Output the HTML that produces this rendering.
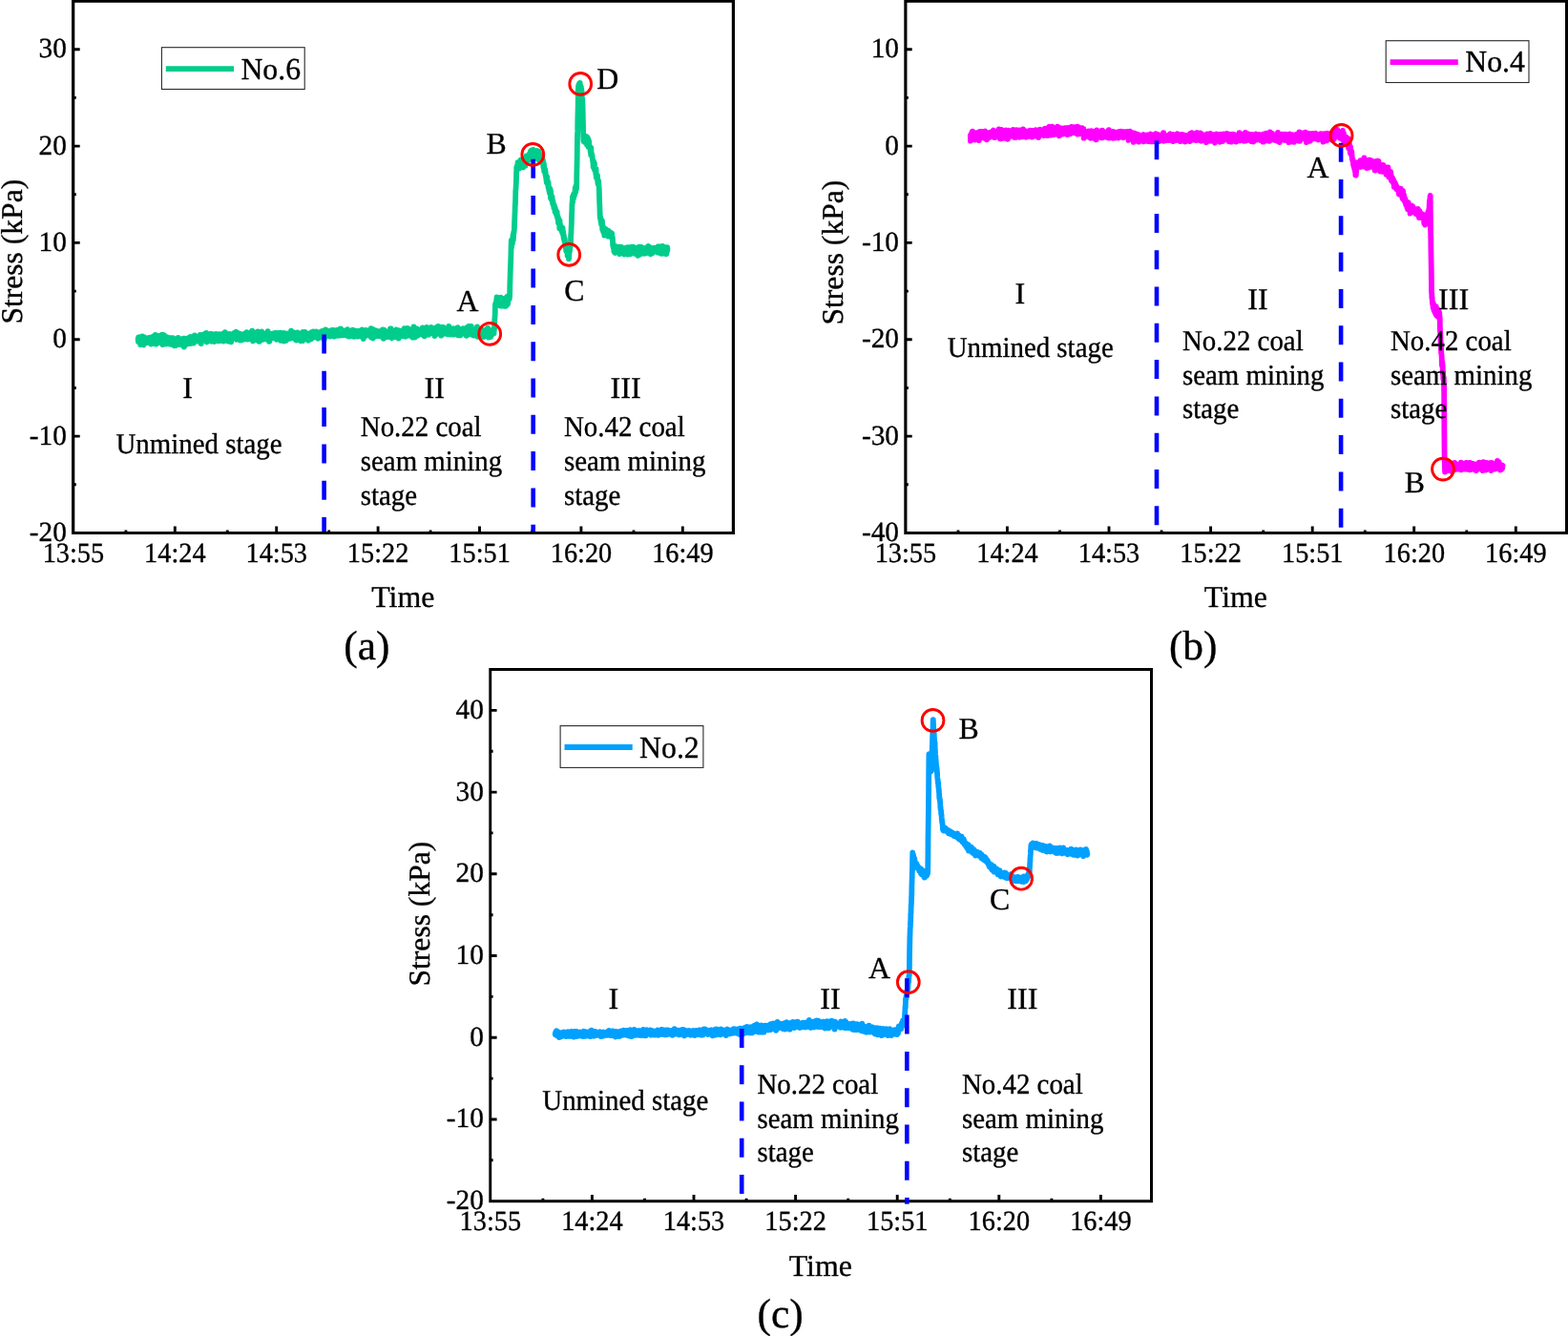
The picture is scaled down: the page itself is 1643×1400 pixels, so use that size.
<!DOCTYPE html>
<html lang="en">
<head>
<meta charset="utf-8">
<title>Stress-time curves of monitoring points No.6, No.4 and No.2</title>
<style>
html,body{margin:0;padding:0;background:#fff}
body{width:1643px;height:1400px;overflow:hidden}
svg{display:block;text-rendering:geometricPrecision}
text{white-space:pre}
</style>
</head>
<body>
<svg width="1643" height="1400" viewBox="0 0 1643 1400" role="img" aria-label="Stress-time curves for monitoring points No.6 (a), No.4 (b) and No.2 (c)" font-family='"Liberation Serif", "DejaVu Serif", serif' fill="#000">
<style>text{stroke:#000;stroke-width:.35px;stroke-linejoin:round}</style>
<rect width="1643" height="1400" fill="#fff"/>
<g id="chart-a">
<path d="M131.9,558.5V555.6M183.3,558.5V551.6M238.3,558.5V555.6M289.7,558.5V551.6M344.7,558.5V555.6M396.1,558.5V551.6M451.1,558.5V555.6M502.5,558.5V551.6M557.5,558.5V555.6M608.9,558.5V551.6M664,558.5V555.6M715.3,558.5V551.6M76.8,51.7H83.7M76.8,153.1H83.7M76.8,102.4H79.8M76.8,254.4H83.7M76.8,203.8H79.8M76.8,355.8H83.7M76.8,305.1H79.8M76.8,457.1H83.7M76.8,406.5H79.8M76.8,507.8H79.8" stroke="#000" stroke-width="2.9" fill="none"/>
<text transform="translate(76.9 588.8) scale(0.966 1)" font-size="29.3" text-anchor="middle">13:55</text>
<text transform="translate(183.3 588.8) scale(0.966 1)" font-size="29.3" text-anchor="middle">14:24</text>
<text transform="translate(289.7 588.8) scale(0.966 1)" font-size="29.3" text-anchor="middle">14:53</text>
<text transform="translate(396.1 588.8) scale(0.966 1)" font-size="29.3" text-anchor="middle">15:22</text>
<text transform="translate(502.6 588.8) scale(0.966 1)" font-size="29.3" text-anchor="middle">15:51</text>
<text transform="translate(609 588.8) scale(0.966 1)" font-size="29.3" text-anchor="middle">16:20</text>
<text transform="translate(715.4 588.8) scale(0.966 1)" font-size="29.3" text-anchor="middle">16:49</text>
<text transform="translate(69.9 60.1)" font-size="29.3" text-anchor="end">30</text>
<text transform="translate(69.9 161.5)" font-size="29.3" text-anchor="end">20</text>
<text transform="translate(69.9 262.8)" font-size="29.3" text-anchor="end">10</text>
<text transform="translate(69.9 364.2)" font-size="29.3" text-anchor="end">0</text>
<text transform="translate(69.9 465.5)" font-size="29.3" text-anchor="end">-10</text>
<text transform="translate(69.9 566.9)" font-size="29.3" text-anchor="end">-20</text>
<text transform="translate(422.3 636.3)" font-size="31.9" text-anchor="middle">Time</text>
<text transform="translate(22.8 263.7) rotate(-90)" font-size="31.6" text-anchor="middle">Stress (kPa)</text>
<text transform="translate(384.4 690.8)" font-size="43.4" text-anchor="middle">(a)</text>
<rect x="169.4" y="49.7" width="149.8" height="43.8" fill="#fff" stroke="#2a2a2a" stroke-width="1.1"/>
<path d="M173.8,72.1h71.2" stroke="#00cd8c" stroke-width="5.8" fill="none"/>
<text transform="translate(252.4 83) scale(0.99 1)" font-size="32.1">No.6</text>
<path d="M144.6,353.6l.2,3.2 .1,1.2 .2-3 .1-1.7 .2,2.6 .2,1 .1,1.3 .2-4.7 .1-.1 .2,4 .2-.5 .1,2.1 .2-1.1 .1-2.1 .2-.4 .2,5.7 .1-5.7 .2-1 .1-.7 .2,2.4 .2,.1 .1-1 .2,.6 .1,.7 .2,.8 .2,.8 .1-1.8 .2-4 .2,5 .1-4.2 .2,2.5 .1-2.6 .2,2.9 .2-1.6 .1,2 .2,5.2 .1-5.7 .2,1.8 .2-4.4 .1,2.1 .2,1.9 .1-1.5 .2,.9 .2-.5 .1-2.3 .2,3.2 .1-2.8 .2,5.4 .2-4.8 .1,2.4 .2-1.4 .1,1.9 .2-3.1 .2,3.2 .1-2.2 .2,2.8 .1-1.3 .2-1 .2-1.8 .1,3 .2-.6 .1,2.4 .2-4.1 .2,1.9 .1-.1 .2-.4 .1-.2 .2,0 .2-1.6 .1-.8 .2,1.2 .2,2 .1,1.8 .2-1.1 .1,.2 .2-.6 .2-.1 .1-1.1 .2,1.2 .1,2 .2-4.2 .2-.7 .1,5.3 .2-3.5 .1,1.5 .2-.2 .2-4 .1,7.1 .2-1.3 .1-3.2 .2,1.1 .2-1.2 .1-2.1 .2,1.6 .1,1 .2,1.4 .2-.8 .1-1.3 .2,2.6 .1-4.2 .2,3.1 .2,.6 .1-2.8 .2-3 .1,1.8 .2,2.2 .2,.6 .1,2.1 .2-5.1 .1,2 .2,1.3 .2-1.7 .1-4.4 .2,6.4 .1,3 .2-2.6 .2-3.9 .1,1 .2,1.3 .1,4.5 .2-3.7 .2-1 .1,2.8 .2-3.2 .1,3.8 .2-5.1 .2,.5 .1,2.4 .2,1.4 .1-1.6 .2-.7 .2-4.2 .1,2.2 .2,.2 .1,.1 .2,2.3 .2-1.9 .1,2.3 .2-1.5 .1-.8 .2,.9 .2,.6 .1,.9 .2-2.7 .1,.5 .2-2.3 .2,6 .1-.3 .2-3.3 .1-.6 .2-1.5 .2,2.8 .1,.1 .2,3.9 .1-3.9 .2-2 .2-3.4 .1,7.8 .2-2.5 .1-3.6 .2,3.6 .2-3.6 .1,8.8 .2-3.3 .1-1.1 .2-1.5 .2-4 .1,4.1 .2-2.9 .1,4.3 .2-5.5 .2,2.5 .1,4.4 .2,.9 .1-5.6 .2-.7 .2,4.9 .1,0 .2-3.6 .1,.7 .2,0 .2-.9 .1,1.1 .2,3.9 .1-1 .2,2.8 .2-4.3 .1,0 .2-1.6 .2,1.7 .1-2.3 .2-.8 .1,5 .2,1.5 .2-1.1 .1,1 .2-2.1 .1-1.8 .2,1.6 .2-.8 .1-1.4 .2-1.1 .1,.4 .2,3.1 .2,.3 .1-1.2 .2,3.9 .1-2.4 .2,.8 .2,1.4 .1-4 .2-2.3 .2,5.5 .1-2.8 .2,4.1 .1-1.9 .2,1.4 .2-.4 .1-5.7 .2,5.7 .1-2.7 .2-.1 .2,.7 .1,2.4 .2,.3 .1,.4 .2-5.3 .2,2.1 .1-3.6 .2,4.6 .1,1.4 .2-2.8 .2,2 .1,0 .2,1.5 .1-3.6 .2-.1 .2,.1 .1,5.1 .2-1.4 .1-2.4 .2,.7 .1-.3 .2,.2 .2-.8 .1-.3 .2-1.8 .1,1.2 .2,4.6 .2-2.3 .1-.9 .2-.6 .1,.5 .2,.6 .2-2 .1,1.7 .2,0 .1-1.9 .2-.1 .1-.5 .2-.1 .2,3.9 .1-6.5 .2,4.1 .1-.7 .2,0 .2,1.4 .1,2.1 .2-2.1 .1-.5 .2-.9 .2,.9 .1,2.1 .2-2.6 .1-1.5 .2-.3 .2,.3 .1-.6 .2,5 .1-1.5 .2-1.2 .2,3.4 .1-4.3 .2,2.9 .1,0 .2-4.7 .1,0 .2,1.3 .2,3.6 .1,.8 .2-5.1 .1,4.6 .2-2.9 .2,0 .1-.4 .2,.5 .1-3 .2,1.6 .2-.5 .1,3.5 .2,3.1 .1,1.3 .2-6.1 .1-2.8 .2,2.6 .2-1.1 .1,5.9 .2-2.9 .1-2.6 .2,3.3 .2-.8 .1-4.3 .2,2.2 .1,.5 .2,.5 .2,.2 .1-1 .2,1 .1-1.6 .2-.7 .2,4.8 .1-2.4 .2,.1 .1-4.1 .2,2.8 .2,1.9 .1-4.2 .2,4.7 .1-3 .2,1.5 .2-1.1 .1,.6 .2,1.9 .1-3.2 .2,3.8 .2-4.7 .1-.4 .2,3.3 .1-3.6 .2,1.3 .2,2.5 .1,.6 .2-6.1 .1,4.5 .2,2.7 .2-1.4 .1-2.9 .2-.8 .1,.6 .2-1.8 .2,1.7 .1,.1 .2,.1 .1,2.6 .2-2.9 .2-2.5 .1,4.9 .2-4.3 .1,1.2 .2,.6 .2-.5 .1-1.3 .2,1.4 .1,4.8 .2-5.6 .2,.9 .1,2.5 .2-.8 .1,.1 .2,.1 .2-5.6 .1,2.2 .2,1.9 .1,.8 .2,1.5 .2-1.6 .1-1.5 .2,.6 .1-.5 .2,.9 .2,.8 .1-2 .2-1 .1-.1 .2,3.9 .2,.3 .1-.6 .2-.2 .1-.1 .2-1.7 .2,1.3 .1-3.4 .2,1.7 .1-1.1 .2,2.9 .2-2.6 .1,.9 .2,1 .1,1.9 .2-4.3 .2-.3 .1,3.5 .2-3.9 .1,3.1 .2-2.1 .2,1 .1-3.5 .2,5.1 .1-2.5 .2-.8 .2,5.9 .1-2.7 .2,4.2 .1-4.8 .2-1.6 .2,.9 .1,3 .2-3.3 .1,1 .2,.1 .2-2.9 .1,2.1 .2-1.3 .1-1.5 .2,4.2 .2-.4 .1-1.2 .2-2 .1-2.2 .2,5 .2-1.2 .1-3.2 .2,3.2 .1-2.9 .2,3 .2,.3 .1,.4 .2-.3 .1-.1 .2-2.6 .2,1.5 .1-.3 .2,.5 .1,1 .2,.7 .2,2 .1-8.4 .2,5.9 .1-1.2 .2,4.9 .2-2.7 .1-5.1 .2,4.1 .1-1.9 .2,3 .2-4.1 .1,1.9 .2-.1 .1,.1 .2-1 .2-2.5 .1,4.5 .2,1.1 .1-2.2 .2-1.9 .2,2.5 .1,.7 .2-1.5 .1,.3 .2,2.8 .2-5.1 .1,1.1 .2-2.7 .1,2.4 .2-.1 .2-.4 .1,.5 .2,5 .1-4 .2,.1 .2,4.6 .1-4.5 .2-3.4 .1,4.3 .2-2.7 .2,5.1 .1-5.8 .2,1.4 .1-2.1 .2,3.4 .2-2.3 .1,1.9 .2-.6 .1-.5 .2,3.1 .2,0 .1-1.8 .2-1.9 .1-.4 .2,2.7 .2,4.2 .1-5.7 .2-.7 .1,.2 .2-.8 .2,.2 .1,1.5 .2,3.3 .1-2.9 .2-1 .2-2.3 .1,3.7 .2-.5 .1-2.4 .2,.2 .2,2.1 .1,2.1 .2-.8 .1-.8 .2-1.1 .2,1.3 .1-.6 .2,4.3 .1-6.6 .2,1.5 .2,3.3 .1-3.1 .2,3.4 .1-2.9 .2,.3 .2-1 .1-2 .2,.8 .1,6.4 .2-3.2 .2-.1 .1,.7 .2-.7 .1,.9 .2-2.6 .2,.1 .1,2.4 .2-2.7 .1-1.9 .2,2.2 .2-.7 .1,2.3 .2-2.6 .1-.7 .2,1.4 .2,3.8 .1-3.2 .2,.4 .1-.3 .2,.6 .2,1.2 .1,1 .2-6.1 .1,6 .2-2.7 .2-.7 .1,5.5 .2-5.2 .1,4.2 .2-1.9 .2-4 .1,3 .2,.5 .1-1.7 .2-4.4 .2,3.9 .1,.3 .2-1.8 .2,5.9 .1-4.2 .2-.3 .1,.2 .2-1 .2,.1 .1,1.7 .2,.4 .1-1.6 .2,.8 .2-2.6 .1,3.8 .2-2.5 .1,1.9 .2-2.2 .2,.7 .1,1.5 .2-2.9 .1,7.4 .2-5 .2-.1 .1-1.3 .2,4.6 .1-.4 .2-2.2 .2-3.3 .1,1.7 .2,2.3 .1-2.3 .2-1.3 .2,0 .1,.8 .2,1.6 .1-1.4 .2,1.4 .2,5.5 .1-2 .2-5.7 .1,2.8 .2-.5 .2-.5 .1,2.4 .2-2.8 .1,0 .2-.1 .2,.6 .1,2.8 .2-1.1 .1-4.2 .2,1.8 .2-.7 .1,3.2 .2-1.2 .1,1.3 .2-1.9 .2-3.7 .1,4.8 .2-.5 .1,.6 .2-3.7 .2,2.8 .1-1.5 .2,0 .1,2 .2,0 .2-2.5 .1-1.6 .2-1.5 .1,3.8 .2,3.4 .2-2.4 .1-4.4 .2,2.8 .1,2.5 .2,2.5 .2-1 .1-1.6 .2-.3 .1-2.5 .2,1.2 .2,.2 .1-.9 .2,1.7 .1-.9 .2,1.4 .2,2.2 .1-1.4 .2-.6 .1-1.3 .2-2.6 .2,2.8 .1,1.3 .2-3.1 .1,4.5 .2-3.1 .2,1.4 .1-1.4 .2-1.9 .1,6.7 .2-6.5 .2,4.2 .1-3 .2,1.7 .1-2.2 .2,.8 .2,2.6 .1,2.1 .2-5.6 .1,1.7 .2,1.9 .2-3.2 .1,2.7 .2-3 .1,2.8 .2-.4 .2,1.6 .1-1.7 .2-3.1 .2,3.7 .1-3.5 .2,3.7 .1,1.5 .2-1.9 .2-2.3 .1,3.5 .2-2 .1-2.9 .2,1.8 .2,3.6 .1-3.5 .2,.9 .1-1 .2-2.7 .2,2.4 .1,1.7 .2-.3 .1-.7 .2-4 .2,6.7 .1-1 .2,.6 .1,.6 .2-3.5 .2-.3 .1,1.8 .2,2.7 .1-6.7 .2,2.9 .2-1 .1,2.6 .2,1.8 .1-3.5 .2-1.9 .2,2.6 .1-.7 .2-2.5 .1,4.8 .2-2.8 .2,2.4 .1-4 .2,4.8 .1-5 .2,4.9 .2-5.7 .1,6.4 .2-3.5 .1-2.4 .2,2.6 .2,1.2 .1-2.7 .2,1 .1,1.5 .2-.8 .2-5.3 .1,4.7 .2,1.8 .1-.3 .2,1.4 .2-3.4 .1,6.5 .2-3.5 .1-1 .2,1.6 .2-.3 .1-1.7 .2-1.4 .1,3.2 .2-1.2 .2-4.6 .1,1.6 .2,3.1 .1-.7 .2,.4 .2,.7 .1-1 .2,2.9 .1-4.4 .2,.4 .2,1.4 .1,.9 .2,.1 .1,1.4 .2-4 .2,3.3 .1-1.4 .2-3 .1,1.8 .2,4.5 .2-2.6 .1-2.5 .2-3.9 .1,3.3 .2,.1 .2,1.6 .1,4.4 .2-3.1 .1-.9 .2-2.5 .2-.5 .1,2 .2-.5 .1,6.5 .2-6.4 .2-.4 .1,3.5 .2-2.1 .1-2.7 .2,5.1 .2-3.2 .1-2.1 .2,3.3 .1,.4 .2-1.7 .2,2.1 .1,.2 .2-3.4 .1-2.3 .2-.7 .2,4.5 .1,2.8 .2-.5 .1,.8 .2,.9 .2-3.7 .1,2.1 .2-5.2 .1,4.5 .2-.6 .2-1 .1-.7 .2-1.3 .1,2.5 .2,2.3 .2-3.3 .1,1.8 .2-2.4 .1,1.8 .2-2.5 .2,2.8 .1-1.2 .2,1 .1-1.8 .2-1.2 .2,1.7 .1,2.8 .2,1.1 .1-3.8 .2,2.2 .2-.1 .1-.7 .2-3.9 .1,3.7 .2-2.5 .2,4.3 .1-.8 .2-.4 .1-6.3 .2,6.3 .2,.2 .1-4 .2,4.5 .1-1.7 .2-.6 .2-1 .1-.6 .2,1.1 .1,6.5 .2-5.2 .2,0 .1-1.7 .2,.1 .1,.1 .2-.7 .2,3.6 .1-2.3 .2,2.2 .1-4 .2,4.2 .2-2 .1,1.4 .2-1.5 .1-1.6 .2,4.2 .2-3.3 .1,.6 .2-1.5 .1,2.2 .2-1.2 .2,1.4 .1,.1 .2-2.1 .1-1.4 .2,3.7 .2,.9 .1-.4 .2-3.7 .1,3.5 .2-.4 .2-.2 .1,.3 .2-1.5 .1,1 .2,1.5 .2-2.9 .1-1.9 .2,2.7 .1,.6 .2-4.1 .2,2.3 .1,2.6 .2-1.5 .1,.5 .2-2.7 .2,4.3 .1,1.7 .2-3.9 .1-1.1 .2-.8 .2,4.1 .1-1.6 .2-1.8 .1,4 .2-.9 .2-.3 .1-4.7 .2,3.3 .1,1.5 .2-3.7 .2,4.3 .1,1 .2-.8 .1-3.5 .2,0 .2,3.3 .1,.1 .2,.5 .1-.1 .2-2.6 .2-.6 .1-2.9 .2,5.3 .1,3 .2-5.5 .2-.1 .1,2.3 .2-.6 .1-3.4 .2,1.3 .2-.8 .1,6.2 .2-5.4 .1,3.1 .2,2.1 .2,0 .1-.9 .2,.4 .1-5.8 .2,1.8 .2-.8 .1,.9 .2,5.8 .1-8.6 .2,4.5 .2-3.6 .1,5.2 .2-.1 .1-3.6 .2,5.1 .2-4 .1,2.5 .2-2 .1-1.7 .2,.3 .2,.6 .1,1.4 .2-.9 .1,4.4 .2-5.1 .2-.5 .1-.5 .2-.2 .1-1.3 .2,.9 .2,3.8 .1-1.7 .2-.4 .1,1 .2,1.4 .2-.9 .1,.3 .2-2.6 .1,.6 .2-1.1 .2,1.4 .1-1.4 .2,.9 .1,.4 .2-.1 .2-.1 .1-.5 .2,3.6 .1-3.3 .2-1.3 .2,2.4 .1-2.6 .2,.1 .1,2.3 .2-3.5 .2-2.3 .1,6.2 .2,1.5 .1-5.4 .2,1.5 .2,3 .1-5.2 .2,2.3 .1-.7 .2,2 .2-3.5 .1,5.7 .2-2.1 .1,.9 .2-1.3 .2-3.5 .1,3.9 .2-2.4 .1,2.7 .2-1.7 .2,1.1 .1,.2 .2,1.9 .1,0 .2-3.5 .2,2 .1,2.9 .2-1.9 .1-2.5 .2,1.3 .2-.5 .1,2.6 .2-1.8 .1,.7 .2,3.6 .2-7.2 .1,.8 .2-1.5 .1,.3 .2,4.9 .2-1.1 .1,2.7 .2-7.2 .1,2.1 .2,4.7 .2-.8 .1-.3 .2-.1 .1-1.6 .2-.1 .2,.1 .1,1.6 .2-2 .1,.9 .2,2.3 .2-5.2 .1,.8 .2,2.6 .1-1.6 .2,.2 .2,4.5 .1-3.4 .2-1.6 .1,3 .2,2.8 .2-7.2 .1,.9 .2,1.5 .1-1.5 .2,5.6 .2-3.2 .1-1.9 .2,1.8 .1-2.6 .2,.4 .2,1.4 .1,4.6 .2-9.3 .1,5.3 .2,1.9 .2-1.2 .1,2.3 .2-2.9 .1-.6 .2-.6 .2-1.4 .1,5 .2-5.7 .1,2.2 .2-.8 .2-.6 .1-2.8 .2,3.6 .1,1.1 .2,0 .2,1.4 .1-2.1 .2-.9 .1,1.8 .2,.7 .2-3.1 .1-1.3 .2,1 .1,4.1 .2-.1 .2-3.8 .1,2 .2,1.4 .1,1 .2-4 .2,.8 .1,3.3 .2,2 .1-1.8 .2-5.3 .2,3.1 .1-1.5 .2,.5 .1-1.3 .2,.4 .2,.9 .1,3.6 .2-2.2 .1-.6 .2-.8 .2-1.6 .1,1.1 .2,2.9 .1-.9 .2,2.3 .2-3.4 .1-.6 .2-3.2 .1,4 .2-4.3 .2,6.5 .1-4.3 .2,1.2 .1-2.7 .2,1.7 .2-.9 .1,4.1 .2-1.8 .1-2.9 .2-1.5 .2,3.7 .1-.8 .2-1.3 .1,3.4 .2-1.6 .2,.6 .1-1.4 .2,0 .1,.2 .2-2.3 .2,4.4 .1-.4 .2-4.3 .1,3.6 .2,2.1 .2-1.8 .1,2.1 .2-3.2 .1,.5 .2-2.6 .2,.8 .1-1.9 .2,1.9 .1,2.2 .2,.6 .2,1.2 .1-2.1 .2-2.2 .1,2.8 .2-1.2 .2,3.9 .1,.3 .2-2 .1-4.2 .2,1.2 .2,1.4 .1-1.8 .2,2.4 .1,.3 .2,.3 .2-1.2 .1-2.3 .2,.1 .1,1.4 .2,2.9 .2,.5 .1-1.2 .2-1.3 .1,.6 .2,.3 .2,.9 .1-.9 .2-4.8 .1,5 .2-1.2 .2-1.7 .1,2 .2-.5 .1-.7 .2-3.3 .2,3.6 .1,.9 .2-1.3 .1-3.1 .2,4.1 .2,.5 .1-1.1 .2,.5 .1-1.6 .2-.6 .2,2.3 .1-1.8 .2,1.1 .1,5.2 .2-4.2 .2-1.1 .1-3.6 .2,3.5 .1,1.3 .2-3 .2,.9 .1-4 .2,5.6 .1-2.3 .2,2.5 .2,1.4 .1-3.1 .2,2.3 .1-1.5 .2-.9 .2-.2 .1-1.1 .2,4.2 .1-.8 .2-3.8 .2,3.7 .1-3.2 .2-1.5 .1,5.4 .2-5 .2,4.9 .1-2 .2,1.4 .1-.8 .2,1.3 .2-1.6 .1,.4 .2-.7 .1,1.7 .2-3 .2,2.8 .1,1 .2-3.2 .1,1 .2-1.9 .2,.4 .1,1.1 .2-1.2 .1-1.1 .2,1.7 .2,.4 .1,.3 .2,.7 .1-4.9 .2,6.3 .2-3.2 .1-1.2 .2,.8 .1,1.6 .2,.9 .2-2.5 .1,1 .2-3.5 .1,3.5 .2-.6 .2-.6 .1,2.6 .2,1.8 .1-1.5 .2-3.7 .2,4.6 .1-3.7 .2,.6 .1-1.1 .2,2 .2,.2 .1-.8 .2-.7 .1,.1 .2-.6 .2,2.8 .1-3 .2,.7 .1-.1 .2-1.1 .2,1 .1-2.5 .2,3.8 .1,.2 .2-1.7 .2,3.7 .1-4.8 .2,2.8 .1-.2 .2-2 .2,.5 .1,2.3 .2-1.7 .1,.4 .2,2.3 .2-2.4 .1-3.8 .2,1.9 .1,3.1 .2-2 .2-1.8 .1-1.8 .2,4.6 .1,2.3 .2-5.5 .2-1.8 .1,5.3 .2-2 .1,.5 .2-.1 .2-1.1 .1,2.6 .2,1 .1-1.1 .2-1.8 .2,3.2 .1-2.3 .2,1.4 .1-3 .2,3.1 .2,.2 .1,1.1 .2-2.5 .1,.8 .2-2 .2,2.9 .1-.2 .2,.6 .1-2.9 .2-1.6 .2,2.2 .1-.2 .2-1.1 .1,2.7 .2,.7 .2-1.1 .1,1.4 .2-1.4 .1-2.7 .2,.8 .2,.4 .1,2.1 .2,.5 .1-1.6 .2,1.8 .2-3.7 .1,1.5 .2,3.1 .1-2 .2,1.2 .2-5.8 .1,.4 .2,1.6 .1,3.7 .2,1.2 .2-4.4 .1-.7 .2-.1 .1,.3 .2,2.9 .2-1.8 .1,4.4 .2-2.3 .1-2.8 .2,1.9 .2-.8 .1,1.9 .2,.2 .1-2.5 .2,2.5 .2-.7 .1-1.2 .2,.6 .1,.9 .2-2 .2-.7 .1,3.9 .2-2.5 .2-1.2 .1,2.1 .2-3.8 .1,3 .2-2.8 .2,1.9 .1-2.7 .2,2.1 .1,3.2 .2-2.1 .2-2.1 .1,5.9 .2-4.7 .1,4.2 .2-4 .2-1.8 .1,6.5 .2-4.5 .1,2.4 .2,.8 .2-4.9 .1,2.7 .2-1.2 .1,2.3 .2-1.2 .2-2.5 .1,2.6 .2,1.4 .1-2 .2,1.7 .2-2.2 .1,1 .2,.7 .1-.3 .2,2.2 .2-.7 .1-.2 .2-.2 .1-1.1 .2-2.6 .2,4.4 .1,1.3 .2-2.9 .1-1 .2,.5 .2,2.4 .1-1.8 .2-2.5 .1,1.6 .2-1.1 .2,1.1 .1-1.4 .2,.1 .1,4.6 .2-.9 .2-5.1 .1,1.2 .2,1 .1,.2 .2-2 .2,4.5 .1-4.9 .2,4.5 .1,0 .2-2.1 .2-.5 .1,1.4 .2,.2 .1-4.4 .2,1.6 .2,3.5 .1-1.2 .2-.6 .1-1.1 .2,.5 .2-.1 .1,7 .2-7.9 .1,5.4 .2-2 .2-.5 .1-.1 .2-1.1 .1,3.9 .2-2.1 .2-1.1 .1-.2 .2,.7 .1-2.6 .2,1.6 .2-.6 .1,2.4 .2,0 .1-4.8 .2,3.2 .2,2.4 .1-4.5 .2,.2 .1,4.3 .2-2.2 .2-.6 .1-1.5 .2,2.7 .1-1.4 .2,1.5 .2,.4 .1,.6 .2-2 .1-.4 .2,1.1 .2-.3 .1,.6 .2-1.4 .1,.6 .2-.7 .2,0 .1,1.5 .2,1.9 .1-3.3 .2,2.2 .2-.4 .1-.5 .2,1.1 .1-2.4 .2,2.2 .2-.5 .1-6.2 .2,6.3 .1,.5 .2,2.7 .2-5.9 .1,2.2 .2,.5 .1-2.5 .2,4.2 .2-1.4 .1-2.5 .2-.8 .1,1.6 .2,5.4 .2-.4 .1-9 .2,1.3 .1,4.8 .2-1.5 .2-1 .1,2.4 .2-1 .1,.4 .2,0 .2-2.7 .1,4.7 .2-3.4 .2,3.1 .1-.9 .2-1.2 .1,.2 .2-.4 .2-3.5 .1,3 .2,1.5 .1-4 .2,.2 .2,5.1 .1-.6 .2-4.6 .1,4 .2-1 .2,2 .1-2.6 .2,.2 .1-1 .2,1.8 .2-.6 .1-1 .2,.6 .1-.8 .2,2.7 .2-3.2 .1-1 .2,1.1 .1,4.1 .2-3.1 .2,2.2 .1,.2 .2-2.4 .1,2.5 .2-.5 .2-1.1 .1-1.3 .2,1.3 .1-2.4 .2,2 .2-.6 .1,2 .2-.2 .1-1.9 .2,2.9 .2,.7 .1-2.2 .2-1.6 .1,2.5 .2-5.8 .2,3.6 .1,2.3 .2,2.8 .1-5.4 .2,4.5 .2,1.6 .1-.9 .2-8.3 .1,6.8 .2-1.8 .2,1.6 .1-2.3 .2-.9 .1,.8 .2,3.4 .2-1.3 .1-2.2 .2,1.3 .1,1 .2-.6 .2-1.2 .1-1.2 .2-.2 .1,.6 .2-.2 .2-2 .1,.3 .2,4.5 .1-4 .2-.4 .2,2.5 .1,3 .2-.4 .1-3.3 .2-1.3 .2,1 .1-.8 .2,.7 .1,2.1 .2-3.1 .2,.6 .1,1 .2,.4 .1-1.5 .2,0 .2-.7 .1,.7 .2,2.5 .1-1.5 .2-5.1 .2,6.8 .1-1.4 .2-1.6 .1,1.2 .2-5.1 .2,2.3 .1,5.6 .2,1.9 .1,.1 .2-5.8 .2,1.5 .1,1.5 .2-4 .1,5.9 .2-5 .2,2.2 .1-3 .2,3 .1-.8 .2,2.2 .2-4.5 .1,2.3 .2,3.6 .1-6 .2,3.1 .2,.1 .1-1.9 .2,.5 .1,3.3 .2-.5 .2-1.2 .1-.6 .2-2.8 .2,2.4 .1,3.4 .2-1.5 .1-4.8 .2-1.5 .2,2.8 .1,1.7 .2-1.5 .1,.5 .2,1.3 .2,1.1 .1-1.4 .2,2.1 .1-5.4 .2,3.8 .2-.1 .1-3.9 .2,5.5 .1-5.7 .2,.3 .2,8.2 .1-2.7 .2-1.9 .1,1.9 .2-.4 .2-4.5 .1,3.2 .2,1.8 .1-3.1 .2,.4 .2-1.1 .1,2.4 .2-2.6 .1-.1 .2-1.3 .2,.6 .1,2.3 .2,.5 .1-1.7 .2-1.4 .2,2.8 .1,0 .2,1.8 .1-3.5 .2,.1 .2,1.9 .1,2 .2-3.2 .1-.1 .2-1.7 .2,1.1 .1,2.7 .2-.2 .1,.5 .2-5.6 .2,5 .1-3.6 .2,3.1 .1-6 .2,4.6 .2-1.6 .1,4.3 .2-2.3 .1,2.3 .2-3.5 .2,4.9 .1-4.9 .2,4.7 .1-4.8 .2-1 .2,3.7 .1-2.6 .2,.7 .1-2.6 .2,2 .2,.9 .1-1.7 .2,2.2 .1-5.4 .2,6.4 .2-2.6 .1,3.8 .2-3.7 .1-.7 .2,.4 .2,1.5 .1,.6 .2-2.1 .1-.7 .2,2.5 .2,.7 .1-5.2 .2,1.4 .1,.8 .2,4.8 .2-1 .1-.9 .2-.6 .1-3.3 .2,4.5 .2-3.2 .1-.7 .2,5.5 .1-6.8 .2,5.7 .2-2.4 .1-2.3 .2,2.2 .1-2.1 .2,2.1 .2-1.7 .1-1.1 .2,7.8 .1-6.4 .2,3 .2-2.2 .1,1.5 .2-3.9 .2,.4 .1-3.5 .2,7.6 .1-1.1 .2-3.3 .2,4 .1-.5 .2,4.4 .1-5.1 .2,1.3 .2-.6 .1,.3 .2-1.6 .1-.8 .2,2.3 .2,1 .1-4.9 .2,.1 .1,2.2 .2,3.7 .2-4.1 .1-3 .2,5.1 .1-.2 .2,2.4 .2-3.5 .1,3.6 .2-5.5 .1,3.3 .2-1.6 .2-2.7 .1,1.8 .2,3.3 .1-.5 .2-3 .2,3 .1-.4 .2-.1 .1-1.2 .2,0 .2-2.3 .1,1.5 .2,.4 .1-1.7 .2,.9 .2,.9 .1,0 .2,1.7 .1-4.2 .2,1.3 .2,1.3 .1-1.3 .2,1.4 .1-1.6 .2,3.3 .2-2.9 .1-1.8 .2,3.8 .1,1.9 .2-7.3 .2,3.6 .1,.4 .2,2 .1,.9 .2-3.3 .2-2.9 .1,4.5 .2,.7 .1-1.1 .2-.8 .2-1.8 .1,6.6 .2-7.4 .1-.6 .2,5 .2-1.4 .1,.8 .2-.6 .1,2.7 .2-.6 .2-4 .1,3.2 .2-4.4 .1-1.1 .2,5.9 .2-3.3 .1-3.5 .2,4.3 .1-1.3 .2,2.3 .2-1.1 .1-1.4 .2,.1 .1,3 .2-3.5 .2,2.2 .1-2.3 .2,2.9 .1,2.7 .2-2.5 .2,1.1 .1-1.3 .2-2.9 .1,1.4 .2,.7 .2,.8 .1-2.1 .2,2.4 .1-2.7 .2,1.6 .2-.2 .1-2.3 .2,4.4 .1-1.9 .2,.1 .2-.3 .1-4.2 .2,1.4 .1,1 .2,3.8 .2-3.1 .1,2.4 .2-3.3 .1,.3 .2,.8 .2,3.1 .1-5.5 .2,3 .1,1.1 .2-.5 .2-.3 .1,1.6 .2-1 .1-2.6 .2,3.3 .2-2.9 .1,.9 .2,3.6 .1,2 .2-2 .2-2.1 .1-2.4 .2,0 .1,4.9 .2-2.7 .2-3.4 .1,5.9 .2-2 .1,1.5 .2-1.8 .2-5.2 .1,2.9 .2,1.2 .1-.1 .2,3.4 .2-4.4 .1,1.1 .2,.1 .1,0 .2-2 .2-.3 .1-2.8 .2,5.9 .1-1.1 .2,.8 .2-2.5 .1,2.1 .2-1.9 .1-.1 .2,2.7 .2,.6 .1-.1 .2-1.3 .1-.7 .2,3.6 .2-.3 .1-3.8 .2-.9 .1,2.9 .2-.1 .2-2.5 .1,6.5 .2-8.8 .1,2.5 .2,2.2 .2,1.5 .1-5.8 .2,2.9 .1,3.7 .2,0 .2-3.4 .1,.6 .2-1.8 .1,2.5 .2-2.9 .2-2 .1,1.1 .2,3.1 .1-2.7 .2,4.9 .2,.3 .1-.6 .2-.7 .1,1 .2-1.8 .2,1.3 .1-.8 .2,.6 .1-3.6 .2,.7 .2-.7 .1,3.7 .2-.7 .1-2.6 .2-.4 .2,.8 .1,3 .2-2 .1-.3 .2-.9 .2,1.1 .1,3.5 .2-4.6 .1,.7 .2,4.1 .2-2 .1-3.7 .2,4.5 .1-4.8 .2,3.7 .2-6.2 .1,3.1 .2,3.8 .1-3 .2-.3 .2,1.6 .1-.1 .2-1 .1-.4 .2,5 .2-.6 .1-2.4 .2-3 .1,1.3 .2,.5 .2,1.5 .1,2.3 .2-4.3 .1,1.4 .2-1.2 .2,1.1 .1-1.6 .2,2.1 .1,1.6 .2-3.1 .2,.1 .1,.9 .2-2.9 .1,6.3 .2-6.4 .2,2 .1-1 .2,4.8 .1-4 .2-.1 .2,4.8 .1-4 .2-1.3 .1,1.5 .2,.4 .2-1.9 .1,1.2 .2-.1 .1,1.9 .2,.1 .2,.1 .1-1.9 .2,1.8 .1-2 .2,2.8 .2-1.6 .1-1.6 .2,3.3 .1-5.5 .2,1.1 .2,.3 .1,1.3 .2-2.2 .1,.1 .2-1.4 .2,4 .1-1.7 .2,5.9 .1-2.8 .2-3.9 .2,5 .1-2.5 .2,2 .1-4.4 .2,4.5 .2-.1 .1-3.1 .2-.8 .1,.9 .2,1.3 .2,4.3 .1-1.2 .2-.6 .1-3.5 .2-.2 .2,1.4 .1-1.3 .2-.4 .1,.6 .2,2.1 .2-1.9 .1,.6 .2-1 .1,.2 .2-.3 .2,3.2 .1-2.1 .2,2.6 .1-3.4 .2,2.5 .2-4.9 .1,1.9 .2,.7 .1-1.1 .2,1 .2-1.6 .1,1.5 .2-1 .1,1.3 .2-.6 .2-1.4 .1,1.2 .2,.9 .1-2.6 .2,2.7 .2,2.3 .1-2.9 .2,1.5 .1,.2 .2-2.9 .2,4.3 .1,2.4 .2-7.1 .1,6.3 .2-5.7 .2,4.4 .1-6.6 .2,5.9 .1-2 .2-2.9 .2,1 .1-.5 .2,.4 .1,2.5 .2-1.1 .2-4.6 .1,4.4 .2,1.6 .1-.8 .2,3.3 .2-7.1 .1,4.2 .2-.4 .1,1.4 .2-4.2 .2,.1 .1,2.3 .2,.5 .1-3.7 .2,4.3 .2-.7 .1,1.5 .2-6.7 .2,6.3 .1-2.8 .2,.8 .1,2.6 .2,1.8 .2-3 .1-.6 .2,2.9 .1-4.4 .2,1.5 .2-.7 .1-.9 .2,2.3 .1,3.8 .2-3.6 .2,.5 .1-1.1 .2,2.4 .1-1.9 .2-2.1 .2,2 .1,2.7 .2-3.1 .1,2.6 .2-2.5 .2,4.2 .1-3.5 .2,.8 .1-1.9 .2,2.3 .2-2.1 .1-2.5 .2,3.6 .1-3.1 .2,5.4 .2-1.3 .1-1.6 .2,1.4 .2-6.6 .1,8.3 .2-4.3 .1,2.6 .2,3.8 .2-8.3 .1,2.4 .2,1.5 .1,.2 .2-4.2 .2,1.5 .1,4.9 .2-4.2 .1,2.3 .2-3.8 .2,.9 .1-1.8 .2,4.2 .1,1.8 .2-2.1 .2-.7 .1,1 .2,.5 .1-1.5 .2,1.7 .2,2.8 .1,.6 .2-5.6 .1-1.4 .2,6.4 .2-1.9 .1,.5 .2-1.2 .1-1.7 .2,2.5 .1,.2 .2,.2 .2-4.6 .1,4.3 .2-2.8 .1,0 .2,1.5 .2-1.4 .1,5.4 .2-3.6 .1-.5 .2-1 .2,.9 .1-.9 .2,1.6 .1,.6 .2,0 .1-4.2 .2,1.8 .2,.9 .1-2.6 .2,3.2 .1-1 .2,.4 .2,.6 .1-2 .2,4.4 .1-1 .2-3.2 .2,2.1 .1,.6 .2-3 .1,.9 .2,2.2 .2-6.6 .1,2.6 .2,3.4 .2,.6 .1-3.1 .2,3.7 .1,2.8 .2-4 .2-.5 .1,.3 .2-2.1 .1,3.2 .2-.7 .2,1.1 .1,1.5 .2-2.8 .1,.4 .2,.3 .2,2.9 .1-6.4 .2,3 .2-1.2 .1,1.5 .2,1.5 .1-1.5 .2,1.4 .2-1.4 .1-2 .2-.2 .1-1.7 .2,3 .1-1.5 .2,2.2 .2,0 .1-4 .2-.7 .1,3.1 .2-3.2 .2,1.9 .1,.6 .2-2.3 .1,4.1 .2-5.4 .1,2.1 .2-1.9 .2-9 .1,1.1 .2-4.1 .2-2.7 .1-5.6 .2-5.3 .2-.3 .1-.2 .2,1.4 .2-2.7 .1,2.4 .2-1.5 .2-3.2 .1,3.6 .2-6.6 .1,4.6 .2-2 .2,1.8 .1,2.5 .2-2.3 .1-.4 .2,3 .2-4.1 .1-.2 .2,3.7 .1-.8 .2-4 .2,3.1 .1,1.3 .2-1.9 .1-.5 .2,1.1 .2,.2 .1-1.8 .2,3.1 .1-4.9 .2,3 .2,4.5 .1-6.4 .2,2 .1-4.4 .2,2.9 .2-.7 .1,2.5 .2-1.1 .1,4.6 .2-5.5 .2,1.8 .1,.5 .2,.9 .1,.5 .2-4.9 .2,7.5 .1-5 .2-.8 .1-1.9 .2,2.4 .2-2.6 .1,3.9 .2-1.6 .1,1.9 .2-2.2 .2,1.7 .1,4.3 .2-2.1 .1-2 .2-2.3 .2,4.9 .1-6.3 .2,.6 .1,5.4 .2-3.8 .2,3.9 .1-1.5 .2,3.2 .1-.8 .2-2.4 .2-2.4 .1,2.5 .2,1.6 .1-2.5 .2-5.9 .2,4.8 .1,.1 .2,.6 .1-.6 .2,3 .2-5.3 .1,3 .2-5.3 .2-.9 .1,1.9 .2,.1 .2-.8 .1-.1 .2,2.2 .2-.5 .1-1.5 .2-.2 .2-7.2 .1-6 .2-6.2 .1-3.4 .2-6.9 .2-3.7 .1-3.3 .2-5.8 .1-3.8 .2-10 .2-3.2 .1,1.5 .2,5.6 .1-3.3 .2-3 .1,2.8 .2-4.1 .2,3.5 .1-4.9 .2-.7 .1,1.6 .2-4.4 .2,1.3 .1,3.5 .2-3.7 .1-3.8 .2,1.1 .1-.3 .2-2.1 .2-1.6 .1-2.2 .2-6.2 .1-2.3 .2-5 .2-4.2 .1-5.7 .2-.4 .1-3.1 .2-7.5 .1-4.8 .2-1 .2-4.8 .1-1.8 .2-5.1 .1-5.2 .2-6.4 .2,3.8 .1-1.4 .2-3 .1-.7 .2-.9 .2,4.6 .1-2.4 .2-5 .1,3.6 .2,.2 .2,.8 .1,0 .2-1.1 .1,1.9 .2,.3 .2-2.8 .1,3.4 .2-3.7 .1-1.8 .2,1.8 .2-3.2 .1,2.3 .2-1.5 .1,1.2 .2,1.3 .2-5.3 .1,5.7 .2-.3 .1-.9 .2,1.8 .1-.7 .2-1.4 .2-1.3 .1,3.5 .2,0 .1-4.5 .2,1.5 .2-.9 .1,4.1 .2-2.9 .1-1.3 .2,5.5 .2-2.4 .1-.7 .2-.2 .1-1.1 .2,.2 .2,1.4 .1-1.1 .2-2.1 .1,.8 .2,3.3 .2-5.1 .1-1.8 .2,2.6 .1-2.7 .2,7.3 .2-4.3 .1-.4 .2-.7 .1,3 .2-6.3 .2,1.7 .1-3.5 .2,5.6 .1-2.9 .2,3.4 .2-4.2 .1-1.6 .2,.6 .1,2.9 .2-3.4 .1,2.1 .2-2.1 .2-.1 .1,.2 .2,4.3 .1-5.5 .2,2.7 .2,.8 .1-3.2 .2-1.6 .1,5.9 .2,.4 .1-4.1 .2-2 .2,4 .1-1.9 .2-1.7 .1,.8 .2-4.2 .1,3.1 .2-.9 .2-.3 .1,3.7 .2-.7 .1,2.7 .2-8.9 .2,4 .1-.5 .2,4.3 .1-.7 .2-2 .1-.1 .2-1.8 .2,.5 .1,.1 .2-4.1 .1,8.9 .2-2.3 .2,2.8 .1-1.7 .2-1.5 .2,.7 .1-5 .2,1.4 .1,3.8 .2-2.5 .2-2.4 .1,3.2 .2-2.5 .1,2.6 .2,3.2 .2-5.4 .1,1.4 .2,2.1 .1-1.2 .2,.5 .2-2.1 .1,1.1 .2-4.1 .2,4.5 .1,3 .2-4.9 .1,2 .2,1.8 .2,1.2 .1,0 .2-4 .1,1 .2,4.6 .2-4.4 .1,1.6 .2-2.1 .2,.5 .1-4.1 .2,4.6 .1-3.2 .2,2.5 .2,.2 .1,4.8 .2-1 .1-.6 .2-1.8 .2-1.6 .1,3.9 .2-2.5 .1,1.6 .2,2.2 .2-2.1 .1,.4 .2-1.8 .2,4.3 .1-1 .2,.5 .1,2 .2-6.4 .2,4 .1,1.9 .2,.1 .1,.6 .2,1 .1-3.3 .2,3.6 .2,3.2 .1-1.8 .2,.4 .1,2.8 .2-4.6 .2,5 .1,3 .2-2.9 .1-.5 .2,3.4 .1-1.3 .2,0 .2,2.6 .1-3.1 .2,5.4 .1-3.2 .2,2 .1,3.2 .2-.9 .1,1.2 .2,2.9 .2,.9 .1,1.8 .2-4.8 .1,3.6 .2-4.6 .1,5.6 .2,1.7 .2-3.5 .1,3 .2,1.4 .1-1.4 .2-.4 .2,4.9 .1-5.1 .2,3.6 .1,2.2 .2-.8 .2,3.3 .1,.4 .2-1.4 .2,3.2 .1-1.4 .2-3.4 .1,2.4 .2,1.8 .2,.5 .1-3.2 .2,8.7 .1-7.3 .2,1.5 .2,3.8 .1,.1 .2,3.3 .1-2 .2,.9 .2,1.3 .1-2.4 .2-.6 .1,2.3 .2,3.5 .2-2 .1,3.6 .2-3 .1,3.2 .2-.9 .2,2.2 .1-1.1 .2,.9 .2-.8 .1,4.1 .2-2.1 .1,1.7 .2,.9 .2-2.6 .1,.7 .2,2.1 .1,3.3 .2-4.2 .2,.6 .1,.6 .2,1.7 .1-.8 .2,1 .2,3.2 .1-2.7 .2,2.7 .1-1.9 .2,2.5 .2,2 .1-4.6 .2,4.7 .1,.9 .2-.1 .1,1.2 .2,.8 .2-2.9 .1,2.9 .2,2 .1,1.9 .2-4.9 .2,2.1 .1-1.1 .2,3.3 .1-1.6 .2,.7 .2,3.9 .1,3.4 .2-8.2 .1,7.9 .2-4.8 .2,3.7 .1-.3 .2,2.2 .1-2.5 .2-.8 .2,2 .1,2.1 .2-3 .1,3.1 .2-.4 .2,.7 .1,.1 .2,1.6 .1,.9 .2-1.8 .2,.3 .1-3.2 .2,3 .1-.9 .2,4.8 .2-2.8 .1,1.5 .2,3.2 .1,1.6 .2,1.2 .1-3.5 .2,2.9 .2,2.4 .1-3.2 .2,2 .1-1.3 .2,1.9 .2,3.4 .1-.5 .2-.2 .1,.3 .2,4.9 .1-.8 .2-3.3 .2,7.5 .1-4.6 .2,1.2 .1-.1 .2,.5 .1,3.1 .2-3.6 .2,3.6 .1-.1 .2,4.8 .1-2.1 .2,.7 .2,.8 .1,.8 .2-.3 .1-4.6 .2,6.5 .1-.9 .2,2.7 .2-2 .1-3 .2-2 .2-1.5 .1,1.4 .2-2 .2-2.9 .1-.2 .2,.2 .2-3.3 .1-.1 .2-2.2 .2-8.6 .1,1 .2-4.6 .1-3 .2-3.5 .2-8.6 .1-1.8 .2-5.2 .1-4.9 .2-3 .2-.3 .1-4.8 .2,5 .2-3.8 .1-1.5 .2-.5 .1,.5 .2-2.3 .2,3.9 .1-1.8 .2-3.1 .2,3 .1-1.7 .2-.8 .1,1.3 .2-2.6 .2-.8 .1,1 .2-5.2 .2,.8 .1,3 .2,.6 .1-6 .2,3 .2-1.9 .1,.3 .2,1.3 .2-6.8 .1-8 .2-10.2 .2-9.2 .1-9.5 .2-12.6 .2-4 .1-11.8 .2-8.4 .2-8.1 .1-14.1 .2-4 .2-2.2 .1-.4 .2,.4 .1-.4 .2-.3 .1,1.4 .2-2.6 .2,2 .1-.1 .2,1.3 .1-3.7 .2,2.8 .2-.6 .1,1.6 .2-.1 .1-.6 .2,.7 .1,.1 .2,1.9 .2,.1 .1,2.7 .2-.7 .2,3.7 .1,4.1 .2,2.8 .2-1.8 .1,4.1 .2,1.7 .2,7.9 .1,6.1 .2,7.3 .1,8 .2,7.5 .2,1.9 .1-3.7 .2-.1 .1,3.5 .2-.5 .2-1.3 .1-1.9 .2,4.6 .2-4.3 .1,4.5 .2-1.7 .1-.7 .2,0 .2,2.1 .1-1.6 .2-3.4 .2,2.2 .1-2.9 .2,5.2 .1,1.1 .2,.3 .2-4.7 .1,7 .2-.5 .2-3.8 .1-3.7 .2,2.3 .1,3.9 .2,2.1 .2-4.7 .1-2.1 .2,2.3 .1,6.3 .2-3.3 .1-2.3 .2-.8 .2,6 .1,.8 .2-2 .1,1.1 .2,1.1 .2-.4 .1,.2 .2,.4 .1,.5 .2,4.2 .1-1.1 .2,1.7 .2,2.4 .1-7.6 .2,5.2 .1,2.7 .2-1.6 .2-.1 .1,2.7 .2-1.1 .2,.1 .1,1.8 .2,1.4 .1,.6 .2,2.5 .2-1 .1-.3 .2,7.3 .1-5.4 .2,.6 .2,1 .1-.4 .2-1.1 .1,4.3 .2,3.2 .2-5.8 .1,2.8 .2,3.1 .2-1.5 .1,3.1 .2-.4 .1-1.4 .2,2.4 .2,.1 .1,2.8 .2-5.6 .1,6.6 .2,2.5 .1-1.7 .2,.8 .2-.9 .1,2.4 .2-.3 .1-1.6 .2,.8 .1-1.6 .2,6.2 .1,.1 .2,2.5 .2-1 .1,1.5 .2-3.4 .1-.4 .2,3.2 .1,1.2 .2,2 .2,3.9 .1,4.8 .2,5.2 .2,5.3 .2,4.8 .1,5.1 .2,3.2 .2,1.3 .1-2.2 .2,1.3 .1,2.2 .2,1.9 .2-1.8 .1-.8 .2,5.3 .2-3 .1-1.3 .2,2.1 .1,.1 .2-2 .2,4.6 .1,4.7 .2-4.3 .1,.4 .2,4.5 .2-1.6 .1,.1 .2,3.5 .2-4.5 .1,2.7 .2,1.7 .1-.1 .2-2.2 .2,.6 .1,5.5 .2-3.7 .1-.3 .2,2.7 .2-5.6 .1,3.5 .2-3.4 .1,6.4 .2-4.7 .2,2.3 .1-2 .2,2.1 .1,.5 .2-.6 .2-.6 .1,1.2 .2-.9 .1-.5 .2,2.3 .2,.6 .1-4.4 .2,.7 .1,.6 .2,2.2 .2-3.4 .1,6 .2-3 .1,.3 .2,1.5 .2-3.2 .1,2.3 .2,.2 .1,1.8 .2-4.6 .2,4.9 .1-1.5 .2-.6 .1,1.7 .2-2.6 .2,.2 .1,2.1 .2-2.3 .1,2.9 .2,.6 .2-2.2 .1,0 .2-1.6 .1-.5 .2,4.8 .2-4 .1,3.1 .2,1.4 .1-1.4 .2,1.3 .1,.9 .2,6.6 .1-2.6 .2,3 .2,2.2 .1-1.1 .2,1.6 .1-2.6 .2,.5 .1,5.2 .2,.9 .2-4.9 .1,4.4 .2-1.7 .1,1.1 .2,.3 .2,1.9 .1-5 .2,1.3 .1,2.6 .2-3 .1,1.6 .2-1.2 .2-3.2 .1,2.3 .2,2.9 .1-2.8 .2-1.9 .2,2.1 .1,1.2 .2,.8 .1-.2 .2,.4 .1-3.1 .2,.9 .2-.3 .1,.7 .2,1.8 .1,1.8 .2-3.1 .2,2.6 .1,.2 .2-4.5 .1,.7 .2,2 .1-3 .2,6.5 .2-7.5 .1,1.4 .2,4 .1-3 .2,3 .2-3.4 .1,4 .2-3.2 .1,2.6 .2,.5 .2-5 .1,1.3 .2-1.8 .1,1.3 .2,4.1 .2-1.9 .1,1.7 .2,1.2 .1-.8 .2-.6 .2-2.3 .1,.1 .2,1.4 .1,1.1 .2,.4 .2-1.6 .1-1.2 .2,.5 .1,3.4 .2-2.7 .2,3.4 .1-5.4 .2,3.2 .1-1.4 .2,1.1 .2-3 .1,2.2 .2-.8 .1-.4 .2-1.9 .2-.4 .1,2.1 .2,1.8 .1-.6 .2,0 .2,.1 .1-3.3 .2,4.8 .1-2 .2-1.6 .2,.4 .1,3.1 .2-1.6 .1-3.7 .2,7.5 .2-7.2 .1,6.4 .2-1.7 .1-3.7 .2,4.5 .2,0 .1-.4 .2-.8 .1-.7 .2-.2 .2-1.5 .1,1.6 .2,2 .1-2.7 .2,4.1 .2-7 .1,3.1 .2-3 .1-.5 .2,4 .2-1.2 .1-.4 .2-1 .1,1.6 .2-2.8 .2,2.9 .1-.7 .2-1.4 .1,3.3 .2-4.6 .2,4.6 .1-.3 .2,.5 .1-.8 .2,1.3 .2-2.1 .1-1.6 .2,2.9 .1-2.3 .2,.8 .2,1 .1-2.1 .2,3.8 .1-5 .2,5.5 .2-2.5 .1,3.4 .2-1.2 .1-.8 .2-.8 .2-.3 .1-3 .2,1.6 .1-.8 .2,.5 .2,1.2 .1-1.4 .2,1.9 .1-.8 .2-.4 .2,1.7 .1,.1 .2-3.6 .1,2.1 .2,6.1 .2-5.5 .1,.9 .2-2.7 .1,3.7 .2,1.1 .2-1.9 .1-1.4 .2,.3 .1-3.8 .2,5 .2-1.8 .1,1.4 .2-.1 .1-.3 .2,3.8 .2-2.4 .1-3.1 .2,2.5 .1,0 .2-1.2 .2,2.8 .1-3.6 .2-2.7 .1,1.3 .2,2.9 .2-2.7 .1,2.3 .2-3.4 .1,3.8 .2-1.3 .2-1.3 .1,.7 .2,.6 .1,2.4 .2-1.4 .2-.9 .1,.8 .2,1.4 .1-.8 .2,2.5 .2-4.9 .1,3.1 .2-1.4 .1-1.5 .2,2.4 .2,.5 .1,.3 .2-1 .1-2.7 .2,2.1 .2,.4 .1,2.5 .2-3 .1,0 .2,2.8 .2-3 .1-1 .2,1.5 .1,.9 .2-1.2 .2-3.6 .1,2.5 .2,2.8 .1-3.5 .2,3.2 .2-1.4 .1-1.9 .2,3.2 .1-5.9 .2,.1 .2,1.1 .1,4.1 .2-1.6 .1,1.8 .2-1.4 .2,.4 .1-1.3 .2,.3 .1,2.7 .2-.4 .2-4.2 .1,3.8 .2,2.9 .1-2.5 .2-3.4 .2,3.3 .1-1 .2-1.1 .1,2.6 .2,.5 .2-3.5 .1,1.3 .2-1 .1,.8 .2,3.1 .2-4 .1,2 .2-.6 .1-.4 .2-2.4 .2,3.5 .1-3.4 .2,3.6 .1-1.6 .2,.4 .2-1.2 .1-.8 .2-.3 .1,2 .2-.1 .2,.7 .1-1.2 .2,2.1 .1-1.2 .2,0 .2-.8 .1,.5 .2,1.3 .1-2.7 .2-1 .2,3.2 .1,0 .2-.7 .1,.4 .2-3.1 .2,.7 .1,1.9 .2-.1 .1-2.4 .2,3.4 .2-4.7 .1,6.2 .2-4.5 .1,1 .2-1 .2-.6 .1,2 .2-3.1 .1,3.1 .2,1 .2-.9 .1,.5 .2-2.8 .1-.8 .2,1 .2,4.7 .1-1.4 .2-4.2 .1,6.9 .2-2.1 .2,.9 .1-.2 .2,.6 .1-5.9 .2,3.5 .2-1.7 .1,5.3 .2-2.4 .1-1.4 .2-.5 .2-3.6 .1,4.3 .2-1.8 .1,4.3 .2-1.2 .2-1.6 .1-.7 .2,3 .1-3.2 .2,3.2 .2-1.8 .1-1 .2,1.3 .1,2.7 .2-6.5 .2,4.6 .1,0 .2-2 .1,3.4 .2-1.6 .2-.2 .1-3.1 .2,3.1 .1-3.7 .2,3.6 .2,3.2 .1-6 .2,4.9 .1-5.3 .2,2.3 .2,1.3 .1-4.3 .2,3.5 .1-2.2 .2,1.5" stroke="#00cd8c" stroke-width="5.8" fill="none" stroke-linejoin="round" stroke-linecap="butt"/>
<path d="M339.6,350.5V557" stroke="#0000ff" stroke-width="4.6" stroke-dasharray="20.0 18.3" fill="none"/>
<path d="M558.7,166.7V557" stroke="#0000ff" stroke-width="4.6" stroke-dasharray="20.0 18.3" fill="none"/>
<path fill-rule="evenodd" fill="#000" d="M75,-0.45H770V560H75ZM78.3,2.65V557H766.8V2.65Z"/>
<text transform="translate(196.7 416.8) scale(1.012 1)" font-size="31.8" text-anchor="middle">I</text>
<text transform="translate(455.2 416.8) scale(1.012 1)" font-size="31.8" text-anchor="middle">II</text>
<text transform="translate(655.6 416.8) scale(1.012 1)" font-size="31.8" text-anchor="middle">III</text>
<text transform="translate(121.5 474.8) scale(0.953 1)" font-size="30.3">Unmined stage</text>
<text transform="translate(490 325.7)" font-size="31.81" text-anchor="middle">A</text>
<text transform="translate(520.2 160.7)" font-size="31.81" text-anchor="middle">B</text>
<text transform="translate(601.8 314.8)" font-size="31.81" text-anchor="middle">C</text>
<text transform="translate(636.7 93.2)" font-size="31.81" text-anchor="middle">D</text>
<text transform="translate(377.8 457) scale(0.953 1)" font-size="30.3">No.22 coal</text>
<text transform="translate(377.8 493) scale(0.953 1)" font-size="30.3">seam mining</text>
<text transform="translate(377.8 528.5) scale(0.953 1)" font-size="30.3">stage</text>
<text transform="translate(591 457) scale(0.953 1)" font-size="30.3">No.42 coal</text>
<text transform="translate(591 493) scale(0.953 1)" font-size="30.3">seam mining</text>
<text transform="translate(591 528.5) scale(0.953 1)" font-size="30.3">stage</text>
<circle cx="513.2" cy="349.9" r="11.4" fill="none" stroke="#ff0000" stroke-width="2.9"/>
<circle cx="558.3" cy="161.9" r="11.4" fill="none" stroke="#ff0000" stroke-width="2.9"/>
<circle cx="596.2" cy="266.9" r="11.4" fill="none" stroke="#ff0000" stroke-width="2.9"/>
<circle cx="608.2" cy="87.9" r="11.4" fill="none" stroke="#ff0000" stroke-width="2.9"/>
</g>
<g id="chart-b">
<path d="M1004,558.5V555.6M1055.4,558.5V551.6M1110.5,558.5V555.6M1162,558.5V551.6M1217.1,558.5V555.6M1268.6,558.5V551.6M1323.7,558.5V555.6M1375.2,558.5V551.6M1430.3,558.5V555.6M1481.7,558.5V551.6M1536.8,558.5V555.6M1588.3,558.5V551.6M948.9,51.7H955.7M948.9,153.1H955.7M948.9,102.4H951.8M948.9,254.4H955.7M948.9,203.8H951.8M948.9,355.8H955.7M948.9,305.1H951.8M948.9,457.1H955.7M948.9,406.5H951.8M948.9,507.8H951.8" stroke="#000" stroke-width="2.9" fill="none"/>
<text transform="translate(948.9 588.8) scale(0.966 1)" font-size="29.3" text-anchor="middle">13:55</text>
<text transform="translate(1055.5 588.8) scale(0.966 1)" font-size="29.3" text-anchor="middle">14:24</text>
<text transform="translate(1162 588.8) scale(0.966 1)" font-size="29.3" text-anchor="middle">14:53</text>
<text transform="translate(1268.6 588.8) scale(0.966 1)" font-size="29.3" text-anchor="middle">15:22</text>
<text transform="translate(1375.2 588.8) scale(0.966 1)" font-size="29.3" text-anchor="middle">15:51</text>
<text transform="translate(1481.8 588.8) scale(0.966 1)" font-size="29.3" text-anchor="middle">16:20</text>
<text transform="translate(1588.3 588.8) scale(0.966 1)" font-size="29.3" text-anchor="middle">16:49</text>
<text transform="translate(942 60.1)" font-size="29.3" text-anchor="end">10</text>
<text transform="translate(942 161.5)" font-size="29.3" text-anchor="end">0</text>
<text transform="translate(942 262.8)" font-size="29.3" text-anchor="end">-10</text>
<text transform="translate(942 364.2)" font-size="29.3" text-anchor="end">-20</text>
<text transform="translate(942 465.5)" font-size="29.3" text-anchor="end">-30</text>
<text transform="translate(942 566.9)" font-size="29.3" text-anchor="end">-40</text>
<text transform="translate(1294.9 636.3)" font-size="31.9" text-anchor="middle">Time</text>
<text transform="translate(882.9 264.6) rotate(-90)" font-size="31.6" text-anchor="middle">Stress (kPa)</text>
<text transform="translate(1250.2 691.4)" font-size="43.4" text-anchor="middle">(b)</text>
<rect x="1452.2" y="42.7" width="149.8" height="43.8" fill="#fff" stroke="#2a2a2a" stroke-width="1.1"/>
<path d="M1456.6,65.1h71.2" stroke="#ff00ff" stroke-width="5.8" fill="none"/>
<text transform="translate(1535.2 75.1) scale(0.99 1)" font-size="32.1">No.4</text>
<path d="M1016.6,143.1l.2-1.4 .1,5.9 .2-4.6 .1-.6 .2,.5 .2-2 .1-.5 .2,2.6 .2-2 .1,2.6 .2-2.1 .1-3.3 .2,.9 .2,1 .1-2.4 .2,4 .2-.5 .1,2.6 .2-3.8 .1,1.3 .2,1.7 .2,.3 .1-3.7 .2,5.4 .1-4.5 .2,3.8 .2-3.2 .1-.2 .2-1.8 .1,2.4 .2,5.2 .2-6.3 .1,4.5 .2-.4 .1-3.6 .2,3.1 .2,.6 .1-3.5 .2-.5 .1,3.4 .2-1.6 .2,3.7 .1-3.5 .2-3.4 .1,2.3 .2-2.3 .2,4 .1-.1 .2-2.3 .1-1 .2,3.7 .2-2.7 .1,3.4 .2-4.7 .1,1.5 .2-.6 .2-1 .1,7.8 .2-2.1 .1-4.9 .2,3 .2-5.4 .1,6.4 .2-.4 .1-3 .2,0 .2,1.2 .1,.5 .2-1.8 .1-1 .2,1.2 .2-.3 .1,2.5 .2-1.5 .1,.4 .2-4 .2,2.6 .1,0 .2-.3 .1,.9 .2-.4 .2-2.6 .1,5.2 .2-.1 .1-3 .2,2.4 .2-3.3 .1-.7 .2,2.2 .1,3.7 .2-3.4 .2-3.1 .1,3.8 .2-1.7 .1-.4 .2,2.3 .2-4.4 .1-.1 .2,.7 .1,5.3 .2-2.1 .2-1.5 .1-.1 .2,2.8 .1,1.2 .2-4.1 .2,2.1 .1,4.4 .2-3.7 .1-2 .2,1.4 .2-.5 .1,1.2 .2-.7 .1-1.8 .2,.8 .2,1.1 .1-2.3 .2,1.6 .1-2.1 .2,4.5 .2,.7 .1-5.1 .2,3.6 .1-1.4 .2-.2 .2-.7 .1,1.1 .2,1.5 .1-4.7 .2,4.7 .2-2.7 .1-1.7 .2,2.2 .1,1.4 .2-1.5 .2,.8 .1-1.4 .2-.4 .1,3.2 .2-4 .2,4 .1-1.4 .2-1.3 .1,.1 .2-.1 .2,.5 .1,0 .2-.2 .1-3.8 .2-.4 .2,5.2 .1-2.1 .2,.1 .1,.9 .2-2 .2,5.5 .1-3.2 .2-.4 .1-1.8 .2,4 .2-.3 .1,1.6 .2-1.3 .1-3.5 .2-1 .2,5.5 .1-4.3 .2,1.2 .1-.1 .2,1.4 .2,.1 .1-3.3 .2,.8 .1-2.3 .2,4.7 .2-1.5 .1-3.1 .2,5.6 .1-2.1 .2-2.1 .2,1.2 .1-.4 .2,1.5 .1,.2 .2-1.7 .2,2.1 .1-6.3 .2,4.7 .1,2 .2,.7 .2-.4 .1-3.8 .2-1.3 .1,2.8 .2,5.4 .2-4.2 .1-2.1 .2-1.9 .1,3.7 .2-1.2 .2,1.9 .1-.6 .2-5.2 .1,4.5 .2,1.9 .2-2.9 .1-1.2 .2,.1 .1-.4 .2,7.2 .2-1.6 .1-4.1 .2,4 .1-5 .2,1.1 .2-.4 .1,1.1 .2,1.7 .1,2.8 .2-2.6 .2-1.8 .1,.6 .2-.8 .1,1.2 .2-2.6 .2,2.3 .1,.4 .2,1 .1-3.6 .2,2.6 .2-.3 .1-2.3 .2-2.4 .1,2.9 .2,2.9 .2-2.3 .1,5.2 .2-3.5 .1-2.7 .2,1.3 .2,1.2 .1,0 .2-1.5 .1,1.4 .2,4.6 .2-3.6 .1-1.6 .2-1.3 .1-2.7 .2,4 .2-1.2 .1,.7 .2-1 .1,2.7 .2,.6 .2-3.6 .1-1.4 .2,3.4 .1,2.2 .2-2 .2,.2 .1-3.9 .2,1.7 .1,2.3 .2-.4 .2-.8 .1,1.2 .2,.6 .1-1.6 .2-1.6 .2-1.5 .1,3.3 .2-.8 .1,0 .2,2.6 .1-3.6 .2,.8 .2,1.9 .1-3.2 .2-2.5 .1,3.2 .2,2.8 .2-2.9 .1,.7 .2-3.3 .1,6.2 .2-6 .2,2.2 .1,1 .2,4.3 .1-3.7 .2-1.7 .2-1.6 .1,2.4 .2-1.8 .1,1.2 .2,1.3 .2,2.4 .1-4.7 .2,5 .1-6.7 .2,7.8 .2-5.2 .1,.5 .2-.2 .1,1.4 .2-.5 .2-.6 .1-.8 .2,.3 .1,1.3 .2-1.2 .2-.4 .1-1.5 .2,3 .1,.9 .2-3.1 .2,4.1 .1-2.1 .2,.3 .1-3.7 .2,4.7 .2,1.3 .1,1.4 .2-5.2 .1,1.1 .2,1.6 .2-.4 .1-2.4 .2,1.4 .1,1.9 .2-.9 .2-1.2 .1,2.2 .2-5.1 .1,3.9 .2-2.3 .2,.6 .1,2.4 .2,1.9 .1-2.6 .2-.7 .2,3.1 .1-1.8 .2-6 .1,3.2 .2-.1 .2,0 .1-1.7 .2,4.3 .1-.9 .2,3.1 .2-4.1 .1,.8 .2-1.7 .1,3.5 .2,.5 .1,.8 .2-1.3 .2-3.2 .1,3.6 .2-4.3 .1,.6 .2,.9 .2,4.5 .1-5.6 .2-.6 .1,2.5 .2,1.9 .2-1.3 .1,0 .2-2.8 .1,.9 .2,3.4 .2-2.4 .1-1.5 .2,.6 .1,3.4 .2,.7 .2-2.6 .1-2.5 .2,5 .1-4.6 .2,1.5 .2,.6 .1-.9 .2-.3 .1,3.6 .2-2.6 .2-3.5 .1,1.6 .2,3.8 .1-2.9 .2-1.7 .2,3.8 .1-.9 .2-.8 .1,1 .2-1.9 .2,1.1 .1,.8 .2-2.3 .1,3.6 .2-4.6 .2,6.3 .1-4 .2,.6 .1-3.2 .2,4 .2-3.3 .1,2.7 .2-1 .1-1.6 .2,5.1 .2-3.2 .1-1.4 .2,.3 .1,1.4 .2-.6 .2,1.6 .1-2.8 .2,1.6 .1-1.4 .2-.5 .2,3 .1-3.2 .2-1.6 .1,4.5 .2-2.3 .2,2.1 .1-.1 .2,0 .1-.9 .2,2.9 .2-5.1 .1,4.4 .2-2.6 .1,.8 .2-1.4 .1,2.5 .2-.7 .2-1.9 .1,1 .2,.9 .1-1.3 .2,5.2 .2-3.8 .1-1.9 .2,2.8 .1-1.5 .2-1.5 .2,.3 .1-2.5 .2,4.7 .1,1.5 .2-3.2 .2-1.4 .1-1.9 .2,1 .1,2.4 .2-1.2 .2,.9 .1-1.4 .2,1.4 .1-.2 .2,.8 .2-.1 .1,.1 .2-1.9 .1,1 .2-1.9 .2,1.4 .1,1 .2,.9 .1-3.5 .2,.7 .2,.9 .1-1.4 .2,1.8 .1,.2 .2-1 .2,4.6 .1-4.1 .2,1.3 .1-4 .2,5.2 .2-1.1 .1-.2 .2-4.6 .1,4.1 .2-1.3 .2,2.2 .1-.9 .2-1 .1,.1 .2,3.4 .2-.3 .1-5.6 .2,2.5 .1,2.1 .2-2 .2,1.4 .1-1.3 .2,3.9 .1-1.8 .2-1.8 .2,3.1 .1-1.5 .2,2 .2-4.2 .1-2.1 .2,4.5 .1-1.5 .2-3.5 .2-2.3 .1,5.9 .2,0 .1-1.8 .2,.7 .2,1.1 .1-3 .2,5.2 .1-5 .2,2.6 .2,0 .1-1 .2-.6 .1,3.2 .2-4.9 .2,3.2 .1,3.2 .2-4.7 .1-1.6 .2,2.1 .2-4.8 .1,4.2 .2-.8 .1,.7 .2-.2 .2,2.9 .1-1.1 .2-2.1 .1,4.6 .2-4.5 .2,4.8 .1-3.8 .2-.9 .1,.9 .2,3.7 .2-2.6 .1-.3 .2-3.2 .1,3.2 .2-.6 .2-.1 .1-.8 .2-1.7 .2,5.7 .1-4.4 .2,3.1 .1-.1 .2-.8 .2-.1 .1,1 .2-2 .1,.6 .2,.8 .2-.3 .1-1 .2-4.8 .1,5.3 .2-2.4 .2,4.8 .1,.1 .2-2 .1,0 .2-4.5 .2,3.7 .1-1.3 .2,5.2 .1-6.3 .2,7.1 .2-4.8 .1-3.7 .2,7.6 .1-4 .2,1.2 .2,1.4 .1-5.3 .2,2.1 .1,1.3 .2,2.2 .2-2.9 .1,1.5 .2-4.6 .1,4.5 .2-2.9 .2,1.1 .1,.9 .2,1.6 .2-3.1 .1,2.2 .2-1.5 .1,1.8 .2-2.1 .2,3.7 .1-4.9 .2,0 .1,4.6 .2-4 .2,2.7 .1,.1 .2-4.7 .1,2.7 .2-.4 .2,.7 .1-2.7 .2,3.3 .1,.1 .2-2.7 .2,2.3 .1,.4 .2-3.9 .1,3.3 .2,1.9 .2-.3 .1-3.7 .2,.6 .1,1.6 .2,.8 .2,.8 .1-1.5 .2,1.4 .1-2.9 .2,5 .2-4.1 .1-1.5 .2,.7 .1-2.4 .2,2 .2,.9 .1,1.6 .2,1.2 .1-3.9 .2,.2 .2,2.8 .1,.7 .2-.5 .2-1.1 .1-2.8 .2,1.2 .1-2 .2,1.7 .2,3.9 .1,.6 .2-3.7 .1,1.7 .2,1.5 .2-4.8 .1-.6 .2,1.4 .1-2.9 .2,5.5 .2-1.5 .1-.4 .2,.6 .1,.9 .2-1 .2-2.4 .1,3.7 .2-2.4 .1,1.6 .2-1.9 .2,1.4 .1-3.1 .2,3.3 .1-.8 .2,2.7 .2-3.7 .1-.1 .2,3.1 .1-5.3 .2,5.2 .2-1.4 .1-.8 .2,1.1 .1-.7 .2-1.2 .2,3.2 .1-3.2 .2,2 .1-.6 .2-1.1 .2,.3 .1,1.8 .2-1.3 .1,3.4 .2-.9 .1-2.6 .2,2.9 .2-6.7 .1,8.1 .2-6 .1,.1 .2,4.7 .2-5.4 .1,1.8 .2,2.1 .1-4.7 .2,3.8 .2,2.1 .1-3.2 .2,4.4 .1-4.7 .2,4.6 .2-2 .1-.6 .2-.7 .1-1.5 .2,4.1 .2-4.4 .1,2.4 .2,1.5 .1-.4 .2,.5 .2-2.6 .1-1.2 .2,3 .1-.7 .2,2.5 .2-6 .1,4 .2,.9 .1-1.7 .2-2.3 .1,3.4 .2,2.1 .2-3.4 .1-.4 .2-.1 .1,0 .2-1.5 .2,9.4 .1-6.1 .2,2.8 .1,.1 .2-3.4 .2,2.3 .1,2.6 .2-.9 .1-.6 .2-3.4 .2,.2 .1,1.4 .2,3.1 .1-4.5 .2,2.9 .2,1 .1-.6 .2-1.6 .1-1.2 .2,2.7 .1-1.9 .2,1.4 .2-1.7 .1,0 .2,.2 .1-1 .2,3.9 .2-4.5 .1,3.6 .2-1.6 .1,1.9 .2-4.2 .2,3.3 .1,.1 .2,2.7 .1-.8 .2-1.3 .2-.8 .1,.2 .2,2 .1,.5 .2-1.4 .2,1.2 .1-5.4 .2,4.9 .1,2.1 .2-3.7 .2-1.4 .1,3.9 .2-6.4 .1,6.1 .2-4.7 .2,3.3 .1-3.3 .2,5.3 .1-2.9 .2-1.2 .2,1.1 .1,2.8 .2,.3 .1-2.6 .2-.9 .2,3.5 .1-2.7 .2-1.4 .1,4.9 .2-7 .2,3.9 .1,2.5 .2-2.3 .1-.3 .2,1.3 .2-3.7 .1,1.9 .2-.1 .1,2.1 .2-1 .2-.8 .1,2.3 .2,.2 .1-5 .2,7.5 .2-4.4 .1-1.6 .2,4.3 .1-8.2 .2,2.4 .1,3 .2-1.9 .2-1 .1,1.8 .2,3.5 .1-2.8 .2,1.5 .2-.1 .1-1.5 .2,.1 .1-1.4 .2,1.8 .2,1.1 .1-1.9 .2,.3 .1,1 .2-.8 .2,.5 .1-4.3 .2,4.4 .1-3.9 .2,4.4 .2-1.6 .1-.5 .2-1.5 .1,4.2 .2-2.7 .2,0 .1-2.8 .2,6.7 .1-4.1 .2-.6 .2,4 .1-1.2 .2-5.9 .1,4.6 .2,3.1 .2-3.4 .1-.9 .2,3 .1-.1 .2-3.2 .2,.4 .1,.2 .2,.1 .1-1.5 .2,1.2 .2,2.6 .1-4.3 .2,5 .1-1 .2,.5 .2,0 .1-3.1 .2-1.4 .1,5.2 .2-2.3 .2,1 .1,1 .2-4.4 .1,2.4 .2,0 .2-1.8 .1,.2 .2,1.7 .1,.7 .2,1.8 .2-.7 .1,1 .2-3.7 .1,1.4 .2-.6 .2-.5 .1-.4 .2,3.6 .1,.3 .2-2.7 .2-5.4 .1,3 .2,.6 .1,4.9 .2-1.1 .2-2.6 .1,1.9 .2-.8 .1-.8 .2-.1 .2-1.5 .1-.2 .2,1.7 .1-1.8 .2,2.8 .2-1.3 .1-1.1 .2,2.4 .1-2.2 .2,.8 .2-1.1 .1,3 .2-1 .1-.6 .2,0 .1,1.3 .2-1.8 .2-2.6 .1,6.8 .2-3.1 .1,1.3 .2-3.2 .2-1.4 .1,1 .2,3.2 .1-1.9 .2,.5 .2-.6 .1-2.1 .2,6.2 .1-5 .2-.1 .2-.3 .1,2.8 .2,1.8 .1-2 .2,.4 .2-1.3 .1,3.1 .2-2.1 .1,.3 .2-2.8 .2,4.4 .1-1 .2-2.3 .1-.4 .2,2.2 .2-3.3 .1,2.7 .2-1.8 .1-.5 .2,4.2 .2-4.2 .1-1.4 .2,6.4 .1-4.2 .2,3.4 .2-2.1 .1-1.9 .2-1.2 .1,2.7 .2,.9 .2-1.8 .1,.6 .2-.8 .1,1.2 .2,.6 .2-.7 .1-3.5 .2,2.4 .1,.7 .2-.1 .2-2.7 .1,2.5 .2-1.9 .1-.2 .2,4 .2-2.6 .1,4 .2,0 .1-5.8 .2,4.1 .2-3.5 .1,4.1 .2,1 .2,.6 .1-.2 .2-5.1 .1,3.2 .2-3.4 .2,3.8 .1,.7 .2-1.9 .1,2 .2-3.3 .2,.7 .1-1.3 .2-1.3 .1,3.8 .2-.2 .2-2 .1,.3 .2-1.2 .1,4.3 .2-.3 .2-2.1 .1,.3 .2-.1 .2-.9 .1,2.5 .2,1.2 .1-5.9 .2,5.7 .2-3.4 .1,1 .2-2.1 .1,1.8 .2,.8 .2-.3 .1,5.5 .2-5.7 .1,.2 .2-.1 .2,1.6 .1,.6 .2,0 .1-1.4 .2,.5 .2-5 .1,4.8 .2-2 .1,2.4 .2-1.6 .2,2.3 .1-1.6 .2,1.8 .1-5.1 .2,5.9 .2-4.6 .1,5.9 .2-5.9 .1,2.9 .2-2 .1,2.3 .2,1.8 .2-3.7 .1,2.4 .2,1 .1-3.6 .2,3.7 .2-2.7 .1,2.3 .2-3.2 .1,7.8 .2-5.9 .2-3.6 .1,4.9 .2-1.6 .1-2.4 .2,2.5 .2-1.7 .1,2.7 .2-2.1 .1-.1 .2,2.4 .2,.3 .1-.6 .2,.7 .1-.7 .2,.7 .2,1.9 .1-.5 .2-.7 .1,1.9 .2-6.2 .1,5.2 .2-5.6 .2,2.4 .1-.4 .2,2.9 .1,1.8 .2-4 .2-2.3 .1,5.4 .2-2.1 .1-2.4 .2,7 .2-3.3 .1-.4 .2-.1 .1-.8 .2,1.8 .2-1 .1,2.2 .2-5.3 .1,2.9 .2,2.1 .2-4.3 .1,3.7 .2-3 .1,3.5 .2,.6 .2-1.3 .1-1.2 .2-1.5 .1,.2 .2,1.8 .2-.6 .1-1.8 .2,2.2 .1-2.5 .2,4.6 .2-.8 .1-1.6 .2,2.2 .1-2.7 .2,3.3 .2-2.6 .1-2.7 .2-1.3 .1,7.4 .2-6.8 .2,3 .1,1.9 .2-2.3 .1-1.1 .2,1.3 .2,.8 .1-.1 .2,.7 .1-3.2 .2,4.4 .2-1.6 .1,.9 .2,.3 .1-.8 .2-3.3 .2,.9 .1-.1 .2-.5 .1,.8 .2-2.2 .2,3.4 .1-.1 .2,2.2 .1-3.1 .2,4.4 .2-3.6 .1-.4 .2,.7 .1,2.7 .2-.8 .2-1.4 .1-.6 .2-.9 .1-1.7 .2,2.3 .2-.4 .1,3.9 .2-4.1 .1,3.5 .2-2.4 .2-.9 .1,2 .2-5.6 .1,.6 .2,7.2 .2-2.8 .1,.1 .2-1.2 .1,.7 .2-.5 .2,0 .1,.6 .2,.1 .1,.6 .2-3.1 .2,1.2 .1,4.1 .2-4 .1,1.4 .2-.4 .2-1 .1,4.3 .2-2.4 .1-4.8 .2,5.8 .2-4.6 .1-1.2 .2,2.2 .1,3 .2-4.9 .2,5.1 .1-3.5 .2,4.1 .1-.9 .2-3 .2-3.1 .1,4.5 .2-4.2 .1,5.8 .2-2.4 .2,3.2 .1-3.5 .2-.8 .1,2.9 .2-3 .2,2.1 .1-.3 .2-1.2 .1-1.2 .2,3.8 .2,2.1 .1-3.8 .2-1.2 .1,1.1 .2-1.7 .2-1.4 .1,5.8 .2-1.8 .1-.9 .2,4.1 .2-3.5 .1-.1 .2,1.8 .1-2.9 .2,1.8 .2,.1 .1,.7 .2-.7 .1,2.1 .2-1.2 .2-.2 .1,.2 .2-2.8 .1-.6 .2,1.2 .2,2.7 .1-4.6 .2,3.2 .1-2.2 .2,.6 .2-.8 .1-1.9 .2,6.3 .1-3.3 .2,.5 .2,.1 .1-5.5 .2,8 .1,.6 .2-3.4 .2,.7 .1,.8 .2-.1 .1,.6 .2-.5 .2-1.7 .1,1.4 .2-3.3 .1,2.1 .2,2.4 .2,.5 .1-1.8 .2,.5 .2-2.4 .1,2.6 .2-1.9 .1-1.6 .2,4.3 .2-2.3 .1,.4 .2-2.9 .1,2.4 .2,.6 .2,.4 .1-.1 .2-.1 .1,.8 .2,.7 .2-.3 .1-3.8 .2,2 .1,2.2 .2-.7 .2-2.3 .1,.5 .2-.2 .1,.6 .2-4.4 .2-.1 .1,2.9 .2-1.7 .1,.9 .2,0 .2,2.1 .1-.5 .2,2.9 .1-2.5 .2-.6 .2,.3 .1-.2 .2-1.5 .1-.6 .2,5 .2-3.9 .1-.4 .2-.7 .1,1.1 .2-1.3 .2,1.1 .1-1.9 .2,.4 .1,6.9 .2-3.6 .2,.3 .1,1.8 .2-1.5 .1-.2 .2-1.5 .2,2.6 .1-3.3 .2,.9 .1-.4 .2,3.3 .2-2.4 .1,.3 .2,2.6 .1,0 .2-2 .2-.3 .1-1.4 .2,.9 .1,1.6 .2-.7 .2,1.7 .1-1.8 .2-2.9 .1,.6 .2-2.6 .2,4.9 .1-2.6 .2,2.8 .1-1.9 .2,1.2 .2-1.1 .1,.3 .2,1.3 .1-1.8 .2,.5 .2-.5 .1,.1 .2-.3 .2-1 .1,1.7 .2,1.4 .1-1 .2-1.3 .2-.9 .1,6.1 .2-1.6 .1-4.5 .2-.3 .2-.5 .1,4.9 .2-5.2 .1,3.3 .2-2.1 .2,2.1 .1-2.1 .2,1.6 .1,.2 .2,1.9 .2,.8 .1-1.7 .2-.3 .1,2.5 .2-6 .2,6.5 .1-4.1 .2-.3 .1,3.5 .2-3.5 .2,.8 .1,1.5 .2,.9 .1-4.7 .2,3.5 .2-.5 .1-1 .2,3.3 .1,1.6 .2-3.2 .2-.1 .1-2.8 .2,1 .1-.4 .2,1.7 .2-.3 .1-1.8 .2,.9 .1-1.8 .2,1.4 .2,.8 .1,.3 .2-.5 .1,.5 .2-.6 .2-1.3 .1,3.1 .2-2.7 .1,.2 .2,2.8 .2-1.8 .1,.6 .2,2.6 .1-4.7 .2-.8 .2,6.3 .1-5.2 .2-.3 .1,5.5 .2-3.5 .2-.9 .1-3.6 .2,3.7 .1-1.2 .2,2.5 .2-4.8 .1,4.1 .2,2.6 .1-2.7 .2-1.5 .2-3.5 .1,3.8 .2-.3 .1-.6 .2-.7 .2,5 .1,.1 .2-4.7 .1,.6 .2,0 .2-.6 .1,2.9 .2,.2 .1,.8 .2-1.7 .2,.5 .1,2.1 .2-1.7 .1-.3 .2-4.1 .2,3.1 .1-.3 .2,.8 .1,2.2 .2-3.4 .2,4 .1-4.6 .2,4.8 .1-5.2 .2,2.1 .2-4 .1,1.5 .2-2.3 .1,5.8 .2-1.6 .2-4.2 .1,5.4 .2-1.8 .1-1.3 .2,1.8 .2,1.1 .1-.6 .2,.3 .1,1 .2,.8 .2-4.6 .1,3.7 .2-3.9 .1,1.1 .2-1.4 .2,1.7 .1,3.7 .2-1.7 .1,2.6 .2-4.3 .2,3.8 .1-7.2 .2,5.8 .2,.8 .1-.7 .2-2.5 .1-.1 .2,1.2 .2,4 .1-2 .2-2.2 .1-3.2 .2,5.5 .2-3.6 .1,3.5 .2-4.8 .1,.7 .2,2.8 .2,0 .1,1.5 .2-1.8 .1-.7 .2,1.7 .2-1.7 .1-1.3 .2,1.6 .1,2.8 .2-2.1 .2,.3 .1,1 .2-.8 .1-3 .2,1.3 .2,1.5 .1,2.7 .2-3.2 .1-2.1 .2,1.9 .2-.1 .1-2.5 .2,3.1 .1,4.4 .2-6.6 .2,2.5 .1,1.1 .2-2.4 .1-3.4 .2,4.5 .2-1.7 .1-.3 .2,1.9 .1-.5 .2,1.8 .2,.6 .1-4.3 .2,3.4 .1-1.8 .2,.7 .2,2.3 .1-3.2 .2-.8 .1-1.5 .2,6.1 .2-2.4 .1-.1 .2-2.1 .1,4.3 .2-7.2 .2,6.1 .1,1.8 .2-.7 .1-2.3 .2,.2 .2-1.3 .1-.2 .2,.5 .1-.8 .2,.6 .2-1.2 .1,1.4 .2,1 .1,1.7 .2-2.7 .2,1.1 .1-1.7 .2,2.4 .1-3.1 .2-1.1 .2-.4 .1,1.2 .2,1.1 .1,3.4 .2-2.2 .2-.5 .1-2.9 .2,1.4 .1,.2 .2,6.6 .2-2.8 .1-.4 .2-5 .1,1.9 .2,.1 .2,.9 .1-3.1 .2,3.9 .1-1.3 .2-3.5 .2,2.9 .1,3.1 .2-.7 .1-.1 .2-4.6 .2,4.8 .1-1.2 .2-.1 .1-2.9 .2,0 .2,5.2 .1-1.4 .2,1 .1,.9 .2-4.1 .2-.1 .1-1.7 .2,5.3 .1-2.1 .2-.7 .2-.7 .1,1.3 .2,4.4 .1-5.9 .2-2.3 .2,5.3 .1-2 .2,3.9 .1-3.1 .2,.9 .2-4.8 .1,2.6 .2-.3 .1,1.1 .2,.9 .2-.9 .1-.8 .2,3.4 .1-1.1 .2,2.4 .2-5.1 .1-.4 .2-2.1 .1,1.8 .2,1.6 .2,3.1 .1-5.4 .2-.5 .1,2.5 .2-.2 .2,1.5 .1-1.9 .2,.2 .1,.2 .2,1.5 .2-4.5 .1,4.7 .2-4 .1,5 .2-3.4 .2,2.3 .1-2.3 .2,2.3 .1,.1 .2-3.9 .2,4.8 .1-1.8 .2-1.9 .2,2.3 .1-4.8 .2,1.8 .1,4.3 .2-2.4 .2,2.4 .1-1.4 .2,1.2 .1,0 .2-.7 .2-.6 .1-1.6 .2,2.2 .1,3.2 .2-5.1 .2,2.1 .1-.9 .2,.2 .1,1.8 .2-4.6 .2,6.3 .1-4.9 .2-2.5 .1,0 .2,3.4 .2,3.2 .1-2.8 .2-1.5 .1,5.8 .2-7.2 .2,2.7 .1,1 .2-.2 .1-.2 .2-2.8 .2,5 .1-2.7 .2,1.1 .1-2.9 .2-1.8 .2,6.8 .1-3.4 .2-.8 .1-.9 .2,.9 .2,.8 .1-.2 .2,.2 .1-.1 .2-2.4 .2,3 .1,.6 .2-2.6 .1,.6 .2,1 .2-2.9 .1,2.8 .2-1.1 .1,2.3 .2,3.3 .2-5 .1-1.7 .2,2.8 .1-.7 .2-.8 .2,.2 .1,.1 .2,1.8 .1-1.8 .2,.9 .2,.9 .1,1.4 .2-1.6 .1,.9 .2,1.4 .2-4 .1,3.2 .2-.7 .1-4.1 .2,1 .2,2.7 .1-6.3 .2,2.4 .1,5.2 .2-2.1 .2,1.7 .1,.2 .2-4.9 .1-.1 .2,5.8 .2-7.1 .1,1.6 .2,2.8 .1-2.8 .2,1.5 .2,1.5 .1-.1 .2-1.5 .1,2.2 .2-.7 .2,.2 .1,.1 .2-1.7 .1-1.1 .2,2.9 .2-2.8 .1,4.1 .2-5.3 .1,2.6 .2,2.8 .2-3.1 .1-.6 .2,5 .1-3 .2,.4 .2-1.2 .1,2.5 .2,.2 .1-4.2 .2-.5 .2-3.2 .1,5.1 .2,1 .1,2.6 .2-4 .2,1.9 .1-2.3 .2-1.1 .1-.8 .2,1.2 .2,3.4 .1-1.2 .2-3.8 .2,5.2 .1-1.7 .2-2.5 .1-.7 .2,4.9 .2-2.2 .1-.5 .2,2.1 .1-5.2 .2,3.1 .2,3.5 .1-4.4 .2,1.7 .1,2.1 .2-1.3 .2-1.2 .1-1.8 .2,1.2 .1-.2 .2,2.6 .2-4.5 .1,2 .2,.9 .1,2 .2-2 .2,0 .1,.6 .2-2.5 .1,6.1 .2-7.2 .2,2.7 .1-1.2 .2,2.2 .1,.6 .2,.9 .2-3.1 .1-1.4 .2-.3 .1,3.2 .2,.8 .2,3.1 .1-3.7 .2-1.7 .1,2.9 .2-4.4 .2,5.8 .1-2.7 .2,0 .1-2.3 .2,2.3 .2,1.5 .1-1.1 .2-.8 .1-.9 .2-1.3 .2-1.6 .1,6.1 .2-2.1 .1-2.1 .2,2.1 .2-.3 .1-1.5 .2-.9 .1,4.7 .2-2.7 .2-2.5 .1,.4 .2,0 .1,2.1 .2-1.3 .2,3.3 .1-2.5 .2-1.5 .2,2.2 .1-1.9 .2,.4 .1,.1 .2-1.8 .2,1.9 .1,1.7 .2-.1 .1,0 .2,1.1 .2,.2 .1,.4 .2-4.1 .1,2.7 .2-.5 .2-1.1 .1,4.1 .2-4.7 .1,1.5 .2,3.4 .2-3.2 .1-.2 .2-1.7 .1,4.4 .2-3.2 .2,1.7 .1-1.5 .2,2 .1-2 .2-1.9 .2-1 .1,7.9 .2-6 .1,3.5 .2,2.6 .2-8 .1,1.6 .2,2.6 .1-2.7 .2,.2 .2-.8 .1,1.7 .2,1.1 .1,.7 .2-2.5 .2,.9 .1,0 .2,.6 .1-.8 .2,1.6 .2-5.2 .1,4.6 .2,.4 .1,.5 .2-2 .2,2.2 .1-.7 .2-.2 .1-2.2 .2-1.8 .2,6.9 .1-3.2 .2,.8 .1-4.2 .2,3.2 .2-.9 .1-.2 .2,4.8 .1-7.1 .2,3 .2,.3 .1,4 .2-2.9 .1-1.7 .2-.1 .2-4.8 .1,7 .2-1 .1,2.2 .2-4.3 .2,.9 .1,1.7 .2-.4 .2-.9 .1,1 .2-.6 .1-1.2 .2,3.2 .2-5.2 .1,1.3 .2-2.1 .1,6.4 .2-3.2 .2,2.5 .1,.1 .2-1.9 .1-.7 .2,.8 .2,.7 .1-3 .2,4.2 .1-4.2 .2,1.7 .2,.9 .1-1.6 .2,3.2 .1-3.5 .2,3.1 .2-1.4 .1,1.3 .2,1.7 .1-4.8 .2-.9 .2,5.3 .1-.2 .2-1.1 .1-1.7 .2,1.9 .2-4.2 .1,2.6 .2-.4 .1,1.9 .2-4.4 .2,5.3 .1,1.3 .2-5.7 .1,1.4 .2-4.6 .2,9.2 .1-2.9 .2-1.4 .1,.7 .2,.6 .2,2.8 .1-4.2 .2-.3 .1-1.1 .2,6 .2,.9 .1-5.3 .2,3.8 .1-6.5 .2,4.6 .2-3.2 .1,1.4 .2,2.6 .1-.1 .2-1.8 .2-.8 .1,1.5 .2-4 .1,4 .2-2.3 .2,1.1 .1,1.3 .2-1.6 .2-3.1 .1,1.5 .2,.9 .1-1.1 .2,2.7 .2-1.3 .1-.4 .2,.8 .1-1.5 .2,1.7 .2,1.1 .1-3 .2,2.4 .1,.6 .2,.5 .2,.1 .1,1.2 .2-6.3 .1,3.4 .2-.8 .2-.2 .1-.1 .2,1.8 .1,0 .2-.6 .2-.8 .1,1.9 .2-2.5 .1-1.7 .2,6.1 .2-2.2 .1,1 .2-.2 .1-4 .2,2.4 .2,.8 .1,.3 .2-3.7 .1,3.7 .2-1.6 .2-.3 .1,3.7 .2-5.3 .1,7.4 .2-5.4 .2,1.2 .1-1.8 .2,.9 .1-3.5 .2,6.6 .2-4.3 .1-.6 .2-.1 .1-1.3 .2,7.9 .2-3 .1-.1 .2-2.8 .1,2.1 .2,2.1 .2-4 .1,.7 .2-1.6 .1,.4 .2,1.1 .2,.1 .1-1.8 .2,1.4 .1,2.7 .2-4.5 .2,1.9 .1-2 .2,3 .1,3.3 .2-4.1 .2,5.3 .1-7 .2,1.6 .1-1.4 .2,3.2 .2-2.5 .1,1.1 .2-.5 .1,.8 .2-1.2 .2,.5 .1,.5 .2,.3 .1-.9 .2,.5 .2-2.9 .1,3.3 .2,.9 .1,0 .2-2 .2,2.8 .1-2.9 .2,2.6 .1-1.6 .2-.5 .2,4.1 .1-5.9 .2-.1 .1-.4 .2,2.3 .2-1.8 .1,2.6 .2,.3 .1-3.2 .2,.5 .2,.5 .1-4.2 .2,4.8 .1,3.4 .2-3.3 .2,4.6 .1-1.4 .2-1.5 .1-.1 .2-2 .2,3.1 .1-2.4 .2,2 .1-1.7 .2,1.6 .2-2.6 .1,3 .2-5.9 .1,1 .2,1.4 .2,1.6 .1-4.4 .2,5.4 .1-3.7 .2,2.1 .2-2.1 .1,2.6 .2,.4 .1,.5 .2-1.4 .2-.6 .1,1.7 .2-.5 .1,1.1 .2-2.2 .2,.7 .1,2 .2-3.8 .1,3 .2,.1 .2-1.3 .1-4.9 .2,4.8 .1,.6 .2-.3 .2,2.7 .1-4.8 .2,4.5 .1,3.1 .2-3.5 .2,.5 .1-1 .2-5.5 .1,3.9 .2-1.6 .2,2.6 .1-3.5 .2,6.2 .1-4.3 .2-1 .2,.1 .1,2.6 .2,3.1 .1-1.1 .2,.2 .2-7.1 .1,3.3 .2,.6 .1,1.2 .2-.4 .2-2.5 .1,2 .2,3.8 .1-5 .2-.7 .2,2.2 .1-2 .2,3 .1-2.4 .2,1.2 .2,1.2 .1-4.3 .2,4.4 .1-1.7 .2-3.2 .2,4.6 .1-5.1 .2,5.7 .1-2.1 .2-1.6 .2,1.3 .1-1.7 .2,3.4 .1-1.9 .2,.7 .2,1.6 .1-.8 .2-.5 .1,1.1 .2-3.6 .2,3 .1-4.2 .2,2 .1-.3 .2,2.8 .2-2.5 .1,1.8 .2-1 .1-3.6 .2,.7 .2,1.5 .1,1.5 .2-1.8 .1,2.4 .2,.8 .2,.7 .1-1.1 .2,1.5 .1-4.7 .2,1.9 .2,.5 .1-.2 .2,2 .1-.8 .2,2.1 .2-1.4 .1-1.9 .2-1 .1-.3 .2,1.2 .2-1.2 .1,4 .2-3.3 .1,1 .2,2.4 .2-1.6 .1,.7 .2-3.9 .1-.1 .2,1.9 .2-2.9 .1,3.3 .2-1.9 .1,1.4 .2,.4 .2,2.1 .1-4.4 .2,2.8 .1,1.6 .2-1.3 .2,1.3 .1-2.8 .2,1.1 .1-3.1 .2,5.4 .2-3.1 .1,2.6 .2-.5 .1,3.5 .2-6.5 .2,.3 .1-.4 .2,1 .1-.2 .2,1.7 .2-4.4 .1,2 .2,4.6 .1,.3 .2-5.8 .2,4 .1-4.2 .2,0 .1,2.5 .2-1.6 .2,2.1 .1-1.3 .2,1 .1-3.2 .2,3.8 .2-1.8 .1,4.9 .2-.4 .1-6.6 .2-.7 .2,1.7 .1,2.7 .2-.2 .1,.7 .2-.3 .2,.6 .1-1.8 .2,1.6 .1-3.4 .2,3.6 .1-.7 .2-3.8 .2,.3 .1,2.8 .2,.4 .1-3.2 .2,3.4 .2-.6 .1-3.1 .2,.9 .1-1.2 .2,1.5 .2,1.2 .1,3.2 .2-5.5 .1,1.1 .2-2.2 .1,3.1 .2-1.8 .2,3.5 .1-1.5 .2-1.5 .1,1.5 .2-2.3 .2,6.5 .1-5.2 .2-.8 .1,.3 .2,3.8 .2-4.3 .1-.6 .2-2.6 .1,2.1 .2,6.4 .1-4.5 .2-.8 .2,1.7 .1-3.6 .2,2.5 .1,.6 .2,.1 .2-1.6 .1-1.2 .2,3.5 .1-1.1 .2-4.9 .1,3.4 .2-1.2 .2-.8 .1,4.5 .2-3.9 .1-.6 .2,1.2 .1-1.7 .2,4.6 .2-6.3 .1,6.1 .2-5.1 .1,1.2 .2,4.6 .2,.5 .1-2 .2,1.8 .1-2.6 .2,.7 .1,.5 .2-3.4 .2,1.6 .1,3.5 .2-1.8 .1-1.4 .2-.2 .1,4.6 .2,.3 .2-4.1 .1-.5 .2,2.1 .1-.9 .2,.3 .2,.2 .1,1.1 .2-2.1 .1-.1 .2,.9 .1,2.8 .2-3.2 .2-1.7 .1,3.1 .2-1.4 .1,1.2 .2,1.4 .2-6.9 .1,5.9 .2,.2 .1,3.7 .2-7.3 .2,1.1 .1,5.6 .2-6.3 .1,1.9 .2,.1 .2,.4 .1,2.3 .2-.5 .1-.2 .2,2.4 .2,4 .1-6.8 .2,3.1 .1-2.1 .2,.3 .2,1.7 .1,3.1 .2-6 .1,6.1 .2-4.4 .2,1.7 .1-1.4 .2,4.3 .1,1.8 .2-1 .2-.7 .1,1.4 .2,.2 .1-2.1 .2,1.1 .1,2 .2-7.5 .2,6.9 .1-1 .2,4.3 .1-4.3 .2-2.1 .2,3.4 .1-2 .2,.5 .1,5.3 .2-.9 .2-2 .1,2.3 .2-.1 .1,4.7 .2-6.1 .2,6.4 .1-1.6 .2,.5 .2-1.8 .1,4.1 .2,1 .1-3.1 .2-.9 .2,4.4 .1-.9 .2,4.4 .1-1 .2,2 .2-.4 .1,1.5 .2-1.3 .1,2.1 .2-1.4 .2,5 .1-2.5 .2,1.7 .1-.5 .2,3 .2-1.6 .1,2 .2-.9 .1,3.1 .2,.3 .1-.1 .2,1 .2,.7 .1,1.3 .2,.6 .1,2.5 .2-.1 .2,.1 .1-3.9 .2,1.3 .2-5.7 .1,2 .2-2 .1-.1 .2-2.4 .2-1.9 .1,2.4 .2,0 .2,.4 .1-2.6 .2-1 .1,3.7 .2-.5 .2-.8 .1-1.6 .2,.1 .1-.9 .2,.8 .2,1.2 .1-2.4 .2,2.1 .1,1.1 .2-3.5 .2-.3 .1,1.2 .2-2.1 .1,5.6 .2-2.9 .2-2.4 .1,6.5 .2-5.6 .1,2 .2,2.8 .1-3.1 .2-1 .2,.3 .1,1.7 .2-1.5 .1-1.8 .2,.8 .2-.4 .1,2.6 .2-2.4 .1-.2 .2,.8 .2,2.5 .1-3.6 .2,2.1 .1-2 .2,5.6 .2-7.1 .1-2 .2,6.8 .1,1.9 .2-4.6 .2,.3 .1-2.4 .2,3.3 .1-1.1 .2,1.1 .2-.4 .1,4.3 .2-2.6 .1-.2 .2-1.8 .2-1.3 .1,3.9 .2-3 .1-.8 .2,7.3 .2-5.6 .1,3.9 .2-1.2 .1-.6 .2-3.5 .2,2.9 .1,3.3 .2-2.8 .2,2.3 .1-3.9 .2,2.5 .1-5.8 .2,8 .2-4.5 .1-.1 .2,1.3 .1-.9 .2,1 .2-4.9 .1,4.3 .2,1.3 .1-2 .2,.1 .2-.4 .1,1.7 .2-1.6 .1,3.3 .2-.4 .2,.6 .1-2.6 .2-3.4 .1,3.9 .2-2.6 .2,1 .1-.1 .2,1.2 .1-1.6 .2,3 .2,.4 .1,.2 .2,.6 .1,.6 .2-4.9 .2,3.4 .1-3.2 .2,4.6 .2-1.9 .1-1 .2,4.5 .1-2.4 .2,0 .2,4.5 .1-6.4 .2,2.2 .1,1.2 .2-1.8 .2-1.2 .1,.2 .2,.3 .1-.5 .2-3.7 .2,5.1 .1,3.3 .2-3.1 .1-.7 .2-1.8 .2,.9 .1,.2 .2-1.2 .1-3 .2,5 .2,.6 .1,1.7 .2-1.6 .1-3.9 .2-1.7 .2,8.7 .1-5.1 .2-.3 .1,.3 .2,1.6 .2,0 .1,1.5 .2-2.4 .2,4.8 .1,1.6 .2-4 .1-1.1 .2,.4 .2,.5 .1,.9 .2-2.3 .1-1.1 .2,4 .2-1.1 .1-.4 .2-.9 .1,.5 .2-.4 .2,5.4 .1-4.8 .2-1.7 .1,3 .2,2.1 .2-4.2 .1,2.2 .2-3.6 .2,4.5 .1-.1 .2,.7 .1-3.5 .2,2.5 .2,1.2 .1-2.2 .2,2.7 .1-1.2 .2-1.6 .2,2.4 .1,.2 .2,.6 .1-2.2 .2,2 .2,.1 .1,2.5 .2-4.4 .1,5.7 .2-4.3 .2,.9 .1,1.5 .2,1.9 .1-7.5 .2,2.4 .2,.4 .1,2.6 .2-2.5 .1,3.2 .2-1.1 .2-4.8 .1,4.3 .2-2.4 .1,2.6 .2,3.2 .2,2.4 .1-3.9 .2,2.6 .1-4.2 .2,.9 .2,2.9 .1-2.9 .2,1 .1-.1 .2,1.9 .1,1.9 .2-5.7 .2,3.2 .1-2.4 .2,6.5 .1-2.8 .2,4.3 .2-2 .1-2.1 .2,2.7 .1-.6 .2,3.2 .1-1.2 .2-2.1 .2-.3 .1,1.2 .2,2.5 .1-2.9 .2,3.1 .1-.6 .2,2.2 .2-1.8 .1,1.1 .2-2.1 .1,1.5 .2,5.3 .2-4.7 .1,.5 .2-.8 .1,.5 .2,4.3 .1-2.3 .2-1.8 .2,.8 .1,4.2 .2-1.8 .1,2.3 .2-2.9 .2,1 .1,1.7 .2-2.3 .2,3.2 .1-2.3 .2,3.1 .1-1.7 .2,.5 .2,1.3 .1-.8 .2,.1 .1,.9 .2-.6 .2,1.4 .1-1.8 .2,0 .2-.7 .1,5.2 .2,1.2 .1-3.2 .2,.2 .2,0 .1,2.2 .2-4.3 .2,1.5 .1,2.4 .2-3.4 .1,3.9 .2,1.3 .2-2.3 .1-4.3 .2,5.4 .1-.4 .2,.1 .2,.8 .1-3.9 .2,.7 .2,4.3 .1-.3 .2-.7 .1,2.4 .2,2 .2-.5 .1-5.7 .2-2 .1,.2 .2,5.1 .2,2.5 .1,1.5 .2-4.9 .2,3.7 .1-3.4 .2,3.2 .1,.3 .2,.1 .2,2.8 .1-.4 .2-1.9 .2-.4 .1,.5 .2,.7 .1,3 .2-1.2 .2,3 .1-3 .2,1.5 .1,1 .2-1.8 .1,1.2 .2,1.1 .2-1 .1,4 .2-5.6 .1,1.1 .2,1.4 .2-.2 .1,5.4 .2-3.8 .1,.3 .2-3.7 .1,5.2 .2-2.4 .2,4.4 .1-2.4 .2-.7 .1,1.9 .2,.2 .1,1.4 .2-2.1 .2-1.9 .1,2.1 .2-1.3 .1,7.1 .2-4.9 .2,.6 .1,1.3 .2-3.4 .1,2.4 .2,1.4 .1-.7 .2-3.3 .2,1.7 .1-2.5 .2-.6 .1,2.2 .2,4 .1-2.5 .2-.9 .2,.7 .1-2.7 .2,3.4 .1-.5 .2,2.9 .2-3.1 .1-1.4 .2,2.9 .1,.3 .2-1.8 .1,1.7 .2,.2 .2-.5 .1,.4 .2-.9 .1-.1 .2,.3 .2-.2 .1,1.6 .2,1.8 .1,.3 .2-.8 .2,.1 .1,1.2 .2-1.3 .1,.5 .2-4 .2,1.4 .1,1.1 .2,.4 .1-2.5 .2,3.8 .2-2.2 .1-1.5 .2,3.2 .1-4.1 .2,5.3 .2,1.7 .1-2.4 .2,.5 .1,1.4 .2-.8 .2-1.4 .1,4.7 .2-2.8 .1,2.4 .2-6.4 .2,4.4 .1,.6 .2,0 .1,.5 .2,.2 .2-1.8 .1,2.4 .2-2.1 .1,1.5 .2,.6 .2-.7 .1,.6 .2-3.3 .1,.6 .2-.7 .2,2.7 .1-.2 .2-1 .1,2.1 .2,1.3 .2-4.2 .1,3.6 .2-2 .1,.9 .2,1.8 .2-.2 .1,.9 .2-1.6 .1,1.4 .2,4.7 .2-6.4 .1,5 .2-.3 .2-2.7 .1,4.4 .2,1.5 .1-6.1 .2,2.1 .2,2.2 .1-4.7 .2,2.5 .1,3.1 .2-.9 .2-4.9 .1,1.8 .2,2.1 .2-4.6 .1,.3 .2-.7 .2,.9 .1-2.6 .2-.8 .2,3.7 .1-.6 .2-6.7 .2,.7 .1-1.2 .2,4.5 .2-3.2 .1-.3 .2-3.7 .2-.1 .1-3.3 .2-4.8 .1,3.6 .2-1.3 .2-3.1 .1-3.6 .2-1.1 .1,10.3 .2,16.9 .1,10.4 .2,6.4 .1,12 .2,10 .2,11.3 .1,9.6 .2,14.6 .2,1.8 .1,3.9 .2-1 .1,2.6 .2,3.6 .2,0 .1,1.9 .2-.4 .1-.5 .2,4.2 .1-4.5 .2,2.8 .1-1.7 .2,.1 .2,5.6 .1-2.8 .2-1.6 .1,2.6 .2-1.1 .1,4.6 .2-2.6 .2-2.2 .1,5.7 .2-4.5 .1-1.1 .2,3 .2-.2 .1,4.5 .2-8 .2,8.3 .1-.5 .2,1.6 .1-5.5 .2,2.9 .2-4.1 .1,6.1 .2,.8 .1-6.9 .2,4.4 .2-1.6 .1,5.2 .2-1.4 .1-2 .2,2 .2-3.8 .1-1.4 .2,2.6 .2,1.9 .1-2.1 .2-.4 .1,.5 .2,2.6 .2,2.2 .1,0 .2,10.1 .1,4 .2,1.5 .1,1.2 .2,3.9 .1,5.5 .2,4.7 .1-3.9 .2,9.6 .2,1.2 .1,1.2 .2,.2 .1,3.2 .2,7.5 .1-4.5 .2,5.8 .2-3.9 .1,4.4 .2-1.4 .1,8.7 .2-3.3 .2,3.5 .1,4.8 .2,1.4 .1,.3 .2-2.5 .1,5.9 .2,.5 .2,24.5 .1,22.2 .2,27.2 .1,5.8 .2,7.9 .2,4.9 .1-.6 .2-3.6 .1,4.2 .2-1.4 .1-5.3 .2,2.7 .1,.2 .2,.8 .2-2.2 .1,0 .2-.2 .1-.2 .2-.9 .1,1.5 .2,1.7 .2-5.7 .1,4.2 .2,1.1 .1-2.5 .2,.8 .2,4 .1-2.8 .2-1.7 .1-.2 .2,2.6 .2-5.5 .1,2.4 .2-2.1 .1,3.8 .2-2.8 .2,1.3 .1-3.6 .2,3.2 .1,1.3 .2,0 .2-1.6 .1,4.6 .2-4.2 .1,.2 .2-1.6 .2-1.1 .1,5 .2-2.4 .1,2.1 .2-1.7 .2,5.8 .1-4.4 .2-3.9 .1,1.3 .2,1.3 .2,1.2 .1,.4 .2-.2 .1,0 .2-2.6 .2,3.1 .1-1.1 .2,.7 .1-2.1 .2,2.9 .2-3.7 .1,3.2 .2-1.8 .1-3.6 .2,5.3 .2-.1 .1-1.4 .2,3.5 .1-.1 .2-2.6 .2-1.9 .1,1.1 .2-1.8 .1-.4 .2,1.5 .1,3.3 .2-3.3 .2,1.4 .1,.8 .2-1.7 .1,1.1 .2,.5 .2-1.1 .1,.7 .2,1.9 .1-1 .2,.2 .2-1.2 .1-1.1 .2,3 .1-1.2 .2,0 .2-1.7 .1-2.3 .2,1.9 .1,1.6 .2-.5 .2,.5 .1-2.8 .2,3.2 .1-3.3 .2,2.8 .2,.6 .1-.6 .2-.6 .1-4.5 .2,7.8 .2-5.1 .1-.1 .2,4.1 .1-2.6 .2-.4 .2,3.3 .1-.9 .2-2.6 .1-2.3 .2,4.7 .2-4.8 .1,2.3 .2-.2 .1,.9 .2-.3 .2-2.1 .1,2.1 .2-1 .1,1.5 .2,1.3 .2-2.4 .1,.9 .2-2.4 .1,5.4 .2-2.3 .2-.7 .1-.1 .2-1.9 .1,3 .2-3.3 .2-1.6 .1,1.7 .2,2.4 .1,.4 .2-2.8 .2,5.1 .1-.7 .2-.2 .1-5.7 .2,3.9 .2-.1 .1,1.7 .2-1.9 .1,2.2 .2-1.9 .2-3.4 .1,6.4 .2-3.3 .1-1.7 .2-.3 .2,3.2 .1,1.1 .2-.3 .1,1.5 .2-3.9 .2-1.7 .1,2.1 .2-3.8 .1,7.6 .2-.9 .2,.5 .1-6.6 .2,4.7 .1-.5 .2-.7 .2,.1 .1-1.2 .2,1.9 .1-2.8 .2,.7 .2-1.7 .1,2 .2,1.3 .1,2.5 .2-3.8 .2,1.4 .1-2.8 .2-.6 .1,3.3 .2,1.6 .2-3.8 .1,2.2 .2,.9 .1-1 .2,.6 .2-1.3 .1,3.5 .2-2.1 .1-3.3 .2,2.4 .2-.6 .1,1.3 .2-.9 .1,.9 .2-.6 .1-.3 .2,1.5 .2-.3 .1,3.3 .2-5.5 .1-.6 .2,3.2 .2-.5 .1,.5 .2,1.7 .1-1.5 .2-1.7 .2-2 .1,.7 .2,1.8 .1,.8 .2-2.3 .2,1.6 .1,1.2 .2-.1 .1-5.7 .2,3.1 .2-.1 .1,2.9 .2-6.1 .1,1.2 .2,3.9 .2-3.1 .1,2.1 .2,0 .1-1.4 .2,1.1 .2-1.4 .1,0 .2,2.4 .1-.3 .2-1.1 .2,2.4 .1,1.3 .2-2.1 .1,2.2 .2-5.6 .2,3 .1-.4 .2,.1 .1,4.3 .2-5.3 .2,3.2 .1-.6 .2-6.3 .1,5.7 .2-3.2 .2,4.5 .1-3.9 .2,1.3 .1-1.6 .2,.7 .2-.8 .1-2.2 .2,4.3 .1-.7 .2,.2 .2,.4 .1-.2 .2-.8 .1,0 .2-2 .2,2.8 .1,3.8 .2-.4 .1-4 .2,3.8 .2-3.6 .1-3.3 .2,1.5 .1,1.1 .2-.3 .2,.6 .1,1.6 .2-.8 .1-1.3 .2,3.4 .2-2.1 .1-1.9 .2-.8 .1,3.3 .2-2.3 .2,4.2 .1,.2 .2-2.2 .1,2 .2-1.4 .2-.2 .1-4.4 .2,6.4 .1-5.4 .2,2.8 .2,2.1 .1-2.8 .2,4.8 .1-4.1 .2,.6 .2-1.9 .1,3.6 .2-4.9 .1-1.4 .2,2.4 .2,1.4 .1,.7 .2,2 .1-3.8 .2,1.7 .2,1.7 .1-2.5 .2,2.9 .1-3.2 .2,.1 .1-2.5 .2,1.9 .2,3.4 .1-3.3 .2,1 .1-.5 .2,.7 .2,.6 .1-2.4 .2,4.3 .1-2.9 .2,1.3 .2,1.4 .1-1.9 .2-.5 .1-1.3 .2-2.2 .2,4.4 .1-3.1 .2,2.9 .1-1 .2-.9 .2,1.3 .1-1.4 .2,1.8 .1-6.5 .2,2.6 .2,2.6 .1-.2 .2-4.2 .1,3.3 .2,.5 .2,1.9 .1-.7 .2-4.7 .1,3.6 .2,2.1 .2,.5 .1,.2 .2,.7 .1-4.8 .2,1.4 .2,4.7 .1-4.9 .2,.9 .1-1.2 .2,3.5 .2-2.3 .1-.8 .2,1.9 .1,2.6 .2-4.2 .2,.8 .1,.1 .2-1.5 .1,3.4 .2-2.6 .2,2.4 .1-2.4 .2-.5 .1,1.2 .2-.3" stroke="#ff00ff" stroke-width="5.8" fill="none" stroke-linejoin="round" stroke-linecap="butt"/>
<path d="M1212,147.3V555.5" stroke="#0000ff" stroke-width="4.6" stroke-dasharray="20.0 18.3" fill="none"/>
<path d="M1405.1,149.7V555.5" stroke="#0000ff" stroke-width="4.6" stroke-dasharray="20.0 18.3" fill="none"/>
<path fill-rule="evenodd" fill="#000" d="M947.3,-0.45H1643.3V560H947.3ZM950.45,2.65V557H1640V2.65Z"/>
<text transform="translate(1068.9 317.7) scale(1.012 1)" font-size="31.8" text-anchor="middle">I</text>
<text transform="translate(1318 324.3) scale(1.012 1)" font-size="31.8" text-anchor="middle">II</text>
<text transform="translate(1523.2 324.3) scale(1.012 1)" font-size="31.8" text-anchor="middle">III</text>
<text transform="translate(992.7 374.2) scale(0.953 1)" font-size="30.3">Unmined stage</text>
<text transform="translate(1381 185.8)" font-size="31.81" text-anchor="middle">A</text>
<text transform="translate(1482.4 515.5)" font-size="31.81" text-anchor="middle">B</text>
<text transform="translate(1239 366.9) scale(0.953 1)" font-size="30.3">No.22 coal</text>
<text transform="translate(1239 402.9) scale(0.953 1)" font-size="30.3">seam mining</text>
<text transform="translate(1239 438.4) scale(0.953 1)" font-size="30.3">stage</text>
<text transform="translate(1457 366.9) scale(0.953 1)" font-size="30.3">No.42 coal</text>
<text transform="translate(1457 402.9) scale(0.953 1)" font-size="30.3">seam mining</text>
<text transform="translate(1457 438.4) scale(0.953 1)" font-size="30.3">stage</text>
<circle cx="1405.6" cy="141.9" r="11.4" fill="none" stroke="#ff0000" stroke-width="2.9"/>
<circle cx="1512" cy="491.6" r="11.4" fill="none" stroke="#ff0000" stroke-width="2.9"/>
</g>
<g id="chart-c">
<path d="M568.9,1258.7V1255.8M620.4,1258.7V1251.9M675.5,1258.7V1255.8M727,1258.7V1251.9M782.1,1258.7V1255.8M833.6,1258.7V1251.9M888.7,1258.7V1255.8M940.2,1258.7V1251.9M995.3,1258.7V1255.8M1046.8,1258.7V1251.9M1101.9,1258.7V1255.8M1153.4,1258.7V1251.9M513.8,744.4H520.6M513.8,830.1H520.6M513.8,787.2H516.6M513.8,915.8H520.6M513.8,872.9H516.6M513.8,1001.5H520.6M513.8,958.7H516.6M513.8,1087.3H520.6M513.8,1044.4H516.6M513.8,1173H520.6M513.8,1130.1H516.6M513.8,1215.8H516.6" stroke="#000" stroke-width="2.9" fill="none"/>
<text transform="translate(513.8 1289) scale(0.966 1)" font-size="29.3" text-anchor="middle">13:55</text>
<text transform="translate(620.4 1289) scale(0.966 1)" font-size="29.3" text-anchor="middle">14:24</text>
<text transform="translate(727 1289) scale(0.966 1)" font-size="29.3" text-anchor="middle">14:53</text>
<text transform="translate(833.6 1289) scale(0.966 1)" font-size="29.3" text-anchor="middle">15:22</text>
<text transform="translate(940.2 1289) scale(0.966 1)" font-size="29.3" text-anchor="middle">15:51</text>
<text transform="translate(1046.8 1289) scale(0.966 1)" font-size="29.3" text-anchor="middle">16:20</text>
<text transform="translate(1153.4 1289) scale(0.966 1)" font-size="29.3" text-anchor="middle">16:49</text>
<text transform="translate(506.9 752.8)" font-size="29.3" text-anchor="end">40</text>
<text transform="translate(506.9 838.5)" font-size="29.3" text-anchor="end">30</text>
<text transform="translate(506.9 924.2)" font-size="29.3" text-anchor="end">20</text>
<text transform="translate(506.9 1009.9)" font-size="29.3" text-anchor="end">10</text>
<text transform="translate(506.9 1095.7)" font-size="29.3" text-anchor="end">0</text>
<text transform="translate(506.9 1181.4)" font-size="29.3" text-anchor="end">-10</text>
<text transform="translate(506.9 1267.1)" font-size="29.3" text-anchor="end">-20</text>
<text transform="translate(859.8 1337)" font-size="31.9" text-anchor="middle">Time</text>
<text transform="translate(450.4 957.6) rotate(-90)" font-size="31.6" text-anchor="middle">Stress (kPa)</text>
<text transform="translate(817.6 1391)" font-size="43.4" text-anchor="middle">(c)</text>
<rect x="587.1" y="760.6" width="149.8" height="43.8" fill="#fff" stroke="#2a2a2a" stroke-width="1.1"/>
<path d="M591.5,783h71.2" stroke="#00a0ff" stroke-width="5.8" fill="none"/>
<text transform="translate(670.1 793.6) scale(0.99 1)" font-size="32.1">No.2</text>
<path d="M581.5,1081.9l.2,.9 .1,1.2 .2-1.4 .1-.6 .2-.7 .2,3 .1-1.2 .2-.6 .1-.4 .2-1.9 .2,3.3 .1-1.3 .2,1.1 .1,2 .2-2.4 .2,.3 .1,1.5 .2-1.6 .1,.5 .2-1.7 .2,.3 .1-.9 .2,3.4 .1,.4 .2-2.3 .2,.5 .1-.3 .2,4 .1-2.2 .2-1.4 .2,1.1 .1,.8 .2-3.1 .1,2.2 .2,0 .2-.8 .1,1 .2,.6 .1-1.6 .2-.5 .1,1.7 .2-1 .2,.3 .1,2.1 .2-2.1 .1-.6 .2-1.6 .2,2.2 .1,0 .2,.3 .1-.1 .2,.2 .2-.6 .1-.1 .2,.6 .1-1.7 .2-.4 .2,0 .1,1.4 .2-2.4 .1,1.7 .2,.3 .2,.7 .1-1.8 .2,1.5 .1-.1 .2-.7 .2,.8 .1-.3 .2-1.3 .1,1 .2-.7 .2,3.6 .1-2.7 .2-.5 .1-1.1 .2,1.9 .2,.5 .1-.5 .2-1.8 .1,.4 .2,0 .2,1.6 .1-1.3 .2,.9 .1,2.5 .2-4.8 .2,2.1 .1,.3 .2-1.9 .1,3.3 .2-1.7 .2,.8 .1,.3 .2,1.1 .1-2.7 .2,0 .2-.8 .1,0 .2,4 .1-3 .2-1.6 .2,3.1 .1,1.4 .2-3.5 .1,1.2 .2-1.8 .2-.8 .1,2.4 .2-1.3 .1,0 .2,1.5 .2,.5 .1-.8 .2,2 .1-2.5 .2,.4 .2,1.6 .1,1.7 .2-.2 .1-1.4 .2-1.1 .1-2 .2,3.7 .2-2 .1,3.2 .2-3 .1-2.7 .2,4.1 .2-1.3 .1-.9 .2,.9 .1-.2 .2,.4 .2-2.8 .1,2.4 .2,.6 .1-2.3 .2,3.4 .2-1.9 .1-2.5 .2,4.8 .1-2.6 .2,.5 .2-.3 .1,2.8 .2-2.5 .1-.9 .2,0 .2,1.6 .1,.1 .2-1.7 .1,2.1 .2-2.1 .2,1.1 .1,.5 .2-.4 .1,0 .2,0 .2-1 .1,1 .2,.1 .1-2.1 .2-.2 .2,2.3 .1-.5 .2,.3 .1,.7 .2-.4 .2-1.3 .1,1.5 .2-1.7 .1,3.2 .2-.9 .2-1.3 .1-.9 .2,1.5 .1-.9 .2-.8 .2,1.7 .1-.5 .2,1 .1-1.4 .2,2.8 .2-.3 .1-4.4 .2-.5 .1,1.4 .2,3.3 .2-1.2 .1-.7 .2,.2 .1-2 .2,1.9 .2-1.6 .1,1.6 .2-.7 .1-.3 .2,.1 .2,1.4 .1,1.7 .2-4.7 .1,3.2 .2-1.5 .1,2.5 .2-.5 .2-2.6 .1,1.2 .2,1.8 .1,.3 .2-3 .2-.5 .1,1.7 .2,1.4 .1-.6 .2-.8 .2,.3 .1,0 .2-.6 .1-1.3 .2,2.1 .2-.3 .1,.6 .2-1.2 .1-.7 .2,1.7 .2,.1 .1,1.2 .2-4.1 .1,1.2 .2,.3 .2,3.1 .1-5.8 .2,4.2 .1-2.3 .2-.3 .2,2.5 .1-.1 .2-4.8 .1,2.1 .2,1.7 .2-.7 .1,2.1 .2-2.5 .1,.7 .2-2.5 .2,3.5 .1-.6 .2,.9 .1-1.9 .2,3.3 .2-3.2 .1,3.1 .2,.1 .1-3.6 .2,1.4 .2-1.1 .1-1.5 .2,3.1 .1-.7 .2,1.7 .2,.4 .1-4.4 .2,1.8 .1,1 .2,.6 .2-1 .1-1.2 .2,.7 .1,1.2 .2-2.6 .2-.1 .1,.1 .2,.8 .1,2.6 .2-2.4 .2,1.6 .1,.8 .2-.2 .1-1.2 .2-.5 .2,.1 .1-.4 .2-.5 .1,1.5 .2,.6 .2-1.9 .1-.5 .2,1.2 .1,0 .2,1 .2-.7 .1-.2 .2-2.1 .1,1.4 .2,.1 .2-.4 .1,1.5 .2-.6 .1-1.1 .2,1.6 .2,1 .1,1.6 .2-3.2 .1-.6 .2,1.8 .2,1.1 .1-3 .2,1.6 .1-1.1 .2,1.4 .2-2.1 .1,.4 .2,.2 .1,.1 .2-1.4 .2,1.3 .1-.8 .2,3.6 .1-.7 .2-2.6 .2,.2 .1,1.1 .2-1.2 .1,0 .2,1.6 .2,.5 .1-.8 .2,1.2 .1-1.8 .2-.2 .2-.4 .1,0 .2-.5 .1,2.9 .2-.7 .2-1.3 .1,.2 .2-1.2 .1,2 .2-1.1 .2,0 .1-.2 .2-1.5 .1,1.2 .2,2.7 .2-3.1 .1-.1 .2,.9 .1-.9 .2-.1 .2-.2 .1,.2 .2,1.3 .1-3 .2,1.1 .2,.1 .1,1.8 .2-1.2 .1,1.7 .2-1.7 .2,2.5 .1-3.7 .2,4.7 .1-4 .2,1.2 .2-.9 .1,1 .2,2.2 .1-.8 .2-1.8 .2,1.4 .1,1.6 .2-1.4 .1-1.3 .2,.9 .2,.1 .1-2.9 .2,1.6 .1,.8 .2,2.3 .2-1.5 .1-.6 .2-2.4 .1,1.5 .2-1.3 .2,2 .1-.9 .2,1.8 .1-1 .2,0 .2,.4 .1,.8 .2-1.6 .1-.3 .2,.9 .2,3.5 .1-4.5 .2-.3 .1,1.6 .2-2.5 .2,2.7 .1-2.2 .2,1.1 .1,0 .2-.8 .2,1.8 .1-.6 .2,1.3 .1-.6 .2-1.3 .2,1.5 .1-.1 .2-.7 .1,.1 .2,1.2 .2-2.3 .1,2.5 .2-1.4 .1,.5 .2,.6 .2,2.1 .1-4.7 .2-.6 .1,3.2 .2-1.9 .2,.6 .1-2 .2,3.3 .1-1 .2-2.5 .2,3.4 .1-1.4 .2-.6 .1-1.6 .2,4.7 .2-3.6 .1,2 .2-1.7 .1-.4 .2,2.6 .2-.5 .1,0 .2-1.4 .1,1.2 .2,.1 .2,1 .1-1.9 .2,.6 .1,.5 .2-4 .2,3.4 .1,1.6 .2-1.1 .1-.4 .2,.5 .2,.7 .1-3.9 .2,1.4 .1-.3 .2-.7 .2,3.1 .1-2.5 .2,1.4 .1,.6 .2,.7 .2-3.4 .1-.1 .2-.6 .1,3.1 .2-1.7 .2,1.8 .1,.7 .2,1.1 .1-3.8 .2,1.6 .2-.2 .1-2.7 .2,3.6 .1,.9 .2-3.6 .2,2.6 .1-.4 .2-.2 .1-1.6 .2,0 .2,4.4 .1-1.5 .2-1.4 .1,1.4 .2-2.9 .2,2.2 .1-1.5 .2-2.8 .1,2.1 .2,2.3 .2,.1 .1-.3 .2-.8 .1,.3 .2-2.5 .2,2 .1,3.9 .2-3.6 .1-.8 .2,3.4 .2-2.9 .1-.1 .2,.3 .1,.4 .2-2.1 .2,1.7 .1-.6 .2-1.8 .1,2.7 .2-.4 .2-.7 .1,.1 .2,1.9 .1-4.9 .2,4.7 .2-1 .1-.1 .2-.5 .1,.1 .2,1.5 .2-2.3 .1,3.6 .2-4.1 .1,2.5 .2-1.1 .2,2.4 .1-1.2 .2-3.1 .1,2.7 .2-1.8 .2,1.8 .1-.6 .2-1.2 .1,0 .2,1.3 .2-.2 .1-.3 .2-1.2 .1,2.1 .2-1.5 .2-1.5 .1,.3 .2,4.7 .1-2.8 .2-.9 .2,.1 .1,.7 .2,.3 .1-.1 .2,1.3 .2-1.8 .1,1.3 .2-.5 .1-.6 .2,1.4 .2-.2 .1-1.8 .2,2.1 .1-1.5 .2-1.3 .2,4.5 .1-.7 .2-4.4 .1,2.8 .2-.1 .2-.7 .1-.7 .2,1.6 .1-.1 .2-.9 .2,1.5 .1-3.1 .2-1.3 .1,4.5 .2,.9 .2-4.2 .1,.7 .2,4.4 .1-3.1 .2,1.6 .2,.2 .1-1.4 .2-1.5 .1,3.4 .2-1.7 .2-2 .1-.1 .2,1.7 .1-2.2 .2,5.2 .2-2.2 .1,.3 .2-1.5 .1,1 .2-3.7 .2,1.9 .1,1.6 .2-2.3 .1,.4 .2-.3 .2,2.8 .1,.1 .2-1.6 .1,1 .2-1 .2-1.7 .1,.7 .2,.5 .1,1.5 .2-.8 .2,1.4 .1-2.3 .2,1.9 .1-.8 .2,1.7 .2-1.6 .1,.9 .2-3.9 .1,3.5 .2-.8 .2,1 .1-.6 .2-2 .1,4.3 .2-.1 .2-1.9 .1,1.2 .2-1.6 .1,2.3 .2-3.8 .2,2.7 .1-.8 .2-2.6 .1,1.6 .2,1.4 .2-2.4 .1,.6 .2,.7 .1-.4 .2,.6 .2-.1 .1,.3 .2-1.1 .1,.8 .2-1.5 .2,3.3 .1-2.4 .2,.9 .1-.8 .2,1.5 .2-1.8 .1,3.3 .2-1.9 .1-.5 .2,1.8 .2-.6 .1-1.2 .2-1.6 .1,1.7 .2,.2 .2-1.4 .1,1.6 .2-1.1 .1,1.5 .2-1.3 .2-1.1 .1-1.4 .2,1.6 .1-1.2 .2,5.2 .2-1.1 .1,.1 .2-1.4 .1,.5 .2-3 .2,1.7 .1-1.5 .2,2.7 .1-1 .2,2.1 .2-3.3 .1,1.8 .2,.8 .1-2 .2,.9 .2,1.3 .1-3.6 .2,2 .1-.3 .2,0 .2-2.7 .1,2.4 .2-2.4 .1,5 .2-2.5 .2,.5 .1-1.1 .2,1.3 .1-1.3 .2,1 .2,1.3 .1-1.3 .2,.4 .1,.3 .2,.2 .2-.8 .1,.2 .2-.4 .1-2.3 .2,1.4 .2,2.9 .1-1.6 .2-.5 .1-1.3 .2,.8 .2,2.1 .1,1.2 .2-2 .1-2.1 .2-.9 .2,1.9 .1,3.1 .2-1.6 .1-2.1 .2,1 .2,0 .1,1.8 .2,.3 .1-.5 .2-3.8 .2,3.8 .1,.8 .2-3 .1,1.5 .2-.2 .2-2.8 .1-.1 .2,1.4 .1,0 .2,1.4 .2-1.9 .1,.2 .2,.4 .1,2.5 .2-2.3 .2,2.1 .1-.3 .2-1.9 .1,1.1 .2-1.4 .2,1 .1,.9 .2-1.2 .1,.2 .2,0 .2-.6 .1,2.5 .2-3.8 .1,2 .2-1.7 .2,.9 .1,.7 .2,3.1 .1-3.2 .2-.1 .2,.7 .1-1.1 .2-1 .1,2.6 .2-.3 .2-1.1 .1,0 .2,2 .1-2.1 .2-.8 .2,.3 .1-2.6 .2,4.9 .1-.7 .2,.1 .2-3 .1,3.5 .2-1.5 .1,.4 .2,1.9 .2-.8 .1-3.2 .2,1.4 .1,.5 .2-.2 .2-.6 .1,1 .2,0 .1-.7 .2,1.7 .2-2.4 .1,.9 .2-1.4 .1,1.7 .2,1.1 .2,1.2 .1-3.3 .2-1 .1,.6 .2,.9 .2,1.6 .1-2.6 .2,1.4 .1,2.9 .2-2.3 .2,.6 .1-.3 .2-2 .1,3 .2,.6 .2-2.5 .1,.1 .2-.5 .1,1.6 .2-1.4 .2,2.5 .1-2 .2,.5 .1,.5 .2-2.4 .2-1.4 .1,3.1 .2-1.4 .1-1.3 .2,1.8 .2,1.5 .1-1.7 .2,2 .1-2.1 .2,.4 .2-2.4 .1,1.6 .2,1.2 .1-.1 .2-1.7 .2,2.1 .1,3.4 .2-2.3 .1-1 .2-2 .2-.3 .1,1.7 .2-1.2 .1,2.5 .2-2.3 .2,1.2 .1-.4 .2,.5 .1-.8 .2,.1 .2,.5 .1,.9 .2-.8 .1-1.5 .2,.1 .2,.6 .1-.3 .2,.4 .1,.6 .2,2.3 .2-2.3 .1-.7 .2,1.6 .1,.1 .2-.6 .2-1.4 .1,1.3 .2,1.2 .1-3.3 .2,1.9 .2-.6 .1,1.8 .2,1 .1-2.4 .2,.5 .2,1.2 .1,.6 .2,.9 .1-3.2 .2,3.2 .2-2.8 .1,.7 .2-1.6 .1,1.7 .2-1.8 .2,1.9 .1-1.7 .2,.9 .1-1.7 .2-.1 .2,1.6 .1,.6 .2,.1 .1-.6 .2-2.1 .2,1.7 .1,2.4 .2-3.2 .1,1.5 .2,.3 .2-.7 .1,.3 .2,1.2 .1-1.4 .2,3.3 .2-4.6 .1,2 .2-.8 .1-1.7 .2,3.7 .2-1 .1-.3 .2,.8 .1-3.3 .2,2.3 .2,.8 .1-1.7 .2-.4 .1,1.9 .2-2.8 .2,.8 .1,1.6 .2,1.6 .1-.9 .2-.9 .2,1 .1-2.2 .2-1.2 .1,2 .2-1.3 .2,.6 .1-.4 .2,.3 .1-1.6 .2,.1 .2,2.5 .1-.6 .2-.1 .1,.4 .2,.7 .2-1.8 .1-1.4 .2,2.7 .1,2.6 .2-2.5 .2,.8 .1-.6 .2-1.5 .1,1.1 .2-.6 .2-.3 .1,3.1 .2-2.9 .1-.1 .2-1.1 .2,1.7 .1,2.9 .2-2.4 .1,2.4 .2-2.5 .2-1.1 .1-1.2 .2,1.1 .1,1.4 .2-3.9 .2,3.3 .1,1.2 .2-.4 .1-3.7 .2,.6 .2,1.3 .1-2.2 .2,2.7 .1-.9 .2,1.7 .2-.5 .1,.1 .2-.2 .1,.6 .2-.2 .2-2.4 .1,2.9 .2-.2 .1-2.3 .2,1 .2,1.6 .1-1.9 .2,1.4 .1-2.2 .2,1.7 .2,2.7 .1-.8 .2,.1 .1,.2 .2-1.9 .2-.1 .1,1.1 .2-1.4 .1-1.5 .2,3.2 .2,.2 .1-.7 .2,.1 .1-2.1 .2,1.8 .2-.6 .1,.5 .2-1.2 .1,.1 .2-1.3 .2,2.1 .1-2.2 .2-.4 .1,1.7 .2,.4 .2-.8 .1,2.5 .2-.8 .1-2.5 .2,.9 .2-.1 .1,4.7 .2-4.9 .1,.4 .2,1.2 .2,.3 .1-1 .2,2.2 .1-4 .2,3.3 .2-2.3 .1,3.4 .2-.4 .1-2.3 .2,.7 .2-1.4 .1-.2 .2,1.6 .1-3.2 .2,4.9 .2-3.8 .1,4.7 .2-3.1 .1-.9 .2-.2 .2,1.8 .1-3.6 .2,3.9 .1-1.9 .2-.1 .2,.1 .1,.4 .2,1.5 .1,.1 .2-.1 .2-3.1 .1,4.1 .2-1.5 .1-.2 .2-2 .2,2.9 .1-1.4 .2,1 .1,.5 .2,1.4 .2-2.2 .1-2.2 .2,2.5 .1-2.3 .2,1.6 .2-1.6 .1,3.2 .2,1.3 .1-5.8 .2,1.6 .2,.7 .1-2.4 .2,1.6 .1,1.3 .2,.3 .2-2.8 .1,2.6 .2,.8 .1,.2 .2-2.3 .2,0 .1,.2 .2,3 .1-1 .2-2.7 .2,2.3 .1-1 .2-.7 .1,1.9 .2-1 .2,1.7 .1,.6 .2-2.9 .1,1.7 .2,1.1 .2-2.5 .1-.2 .2,.4 .1,1 .2-2.7 .2,2.7 .1-1.3 .2,1.6 .1-.8 .2,3.4 .2-3.6 .1,1.5 .2-1.3 .1,1.3 .2-1 .2-3.1 .1-.1 .2,1.2 .1,1 .2,2.4 .2-2.6 .1,1.4 .2-1.5 .1,1.3 .2-1.1 .2-.1 .1,.1 .2-1.6 .1,3.4 .2-1.2 .2-1.2 .1-.5 .2,1.4 .2,0 .1,.1 .2-.7 .1,2.9 .2-2 .2-1 .1,1.1 .2,.5 .1,.2 .2-1.2 .2-.2 .1-1.1 .2,1.2 .1,1.2 .2-2 .2,1.9 .1,.6 .2-1 .1-.2 .2,1 .2-2.4 .1,.5 .2,1.3 .1,.1 .2,.2 .2-3.9 .1,4.3 .2-2.8 .1,1.5 .2-1.4 .2,1.2 .1-1.4 .2,1.3 .1,.4 .2,.8 .2-1.1 .1-.7 .2-1.8 .1,.5 .2,.6 .2,.5 .1,2.2 .2-3 .1,1.5 .2,.1 .2,1.1 .1-1.9 .2,.6 .1,.2 .2,.3 .2,1.7 .1-2.8 .2,.2 .2,.5 .1-2.4 .2,3.8 .1-.5 .2-1.7 .2,1.8 .1-1.5 .2,1.9 .1,1.3 .2-1.1 .2,.6 .1,.7 .2-1.7 .1-1.2 .2-.8 .2,4.3 .1-6.7 .2,6.7 .1-4.2 .2,.9 .2-.8 .1,.7 .2-1.2 .1,.9 .2,0 .2,.6 .1-2.6 .2,5.6 .1-5.6 .2,1.3 .2,1.1 .1-1.9 .2,1.1 .1-.1 .2-2.4 .2,2.1 .1,0 .2,.9 .1,1.5 .2-3.3 .2,.9 .1,.9 .2-1.8 .1,2.2 .2-1.3 .2,2.9 .1-5.1 .2,1.4 .2-2.4 .1,2.8 .2-.6 .1-.2 .2-1.6 .2,3 .1-1.5 .2,0 .1,2.7 .2,1 .2-4.5 .1-1.7 .2,2.8 .1,1.3 .2,.7 .2-.8 .1-1.6 .2,1.1 .1-.2 .2-.8 .2,1.7 .1-1.2 .2,.7 .1,.3 .2,.1 .2-3.8 .1,2.6 .2-.7 .1,2.2 .2-3.2 .2,1.9 .1,3.3 .2-3.2 .1-1.3 .2,1 .2,.1 .1,.5 .2-.1 .2,.3 .1-2.3 .2-1.2 .1,.6 .2,1.9 .2,1 .1-1.2 .2,3.9 .1-3.8 .2,.6 .2,.9 .1-.8 .2,.2 .1-1.6 .2,1 .2-1.8 .1,3.6 .2-2.5 .1,.4 .2,1.3 .2-3 .1,1.2 .2-3.5 .1,5 .2,.3 .2-1.2 .1-.5 .2-3.4 .2,4.6 .1-2.3 .2-1 .1,4.7 .2-6.2 .2,1.7 .1,3.9 .2-.1 .1-2.7 .2-3.9 .2,4.5 .1,2.2 .2-1.1 .1-2.6 .2,3.2 .2,0 .1-1.3 .2,.3 .2,1 .1-1.9 .2,3.8 .1-4.8 .2,1.7 .2,.2 .1-.9 .2-1.1 .1,1.5 .2-.1 .2,1.9 .1-5 .2,3.7 .2-2.4 .1,1.4 .2,1.8 .1-.9 .2-.9 .2,4 .1-6.9 .2,1.7 .1,1.7 .2-3.7 .2,.4 .1,.5 .2,1 .1-.5 .2-1 .2,1.8 .1,1.9 .2-3.4 .2,2.2 .1,.8 .2-1.2 .1,2.2 .2-1.9 .2,3.7 .1-4.7 .2,4.3 .1,1.1 .2-3.7 .2-1.8 .1,.7 .2,1.1 .1-3.3 .2,2.4 .2,.2 .1,1.4 .2-2.9 .1,.8 .2-.3 .2-.3 .1-.3 .2,1.3 .1,1.1 .2,.3 .2-1 .1-2.7 .2,2.7 .1,0 .2,.7 .2-3.1 .1,1.3 .2,1.9 .1-.3 .2,.4 .2,1.2 .1-2.9 .2,.4 .1,1 .2-1 .2-.7 .1-1.2 .2,3.3 .1-4.2 .2-.2 .2,3.1 .1-2.5 .2,1.9 .1-1.4 .2,1.9 .2-3.9 .1,6 .2-2.6 .1-.8 .2,1.2 .2,.1 .1,.2 .2,.2 .1-4.4 .2,2 .2-.1 .1,1 .2,1.3 .1,.5 .2-.8 .2-2.7 .1-.7 .2,2.6 .1-3.6 .2,.9 .2,1.3 .1-.5 .2,0 .1,1.8 .2-.9 .2,1.9 .1-.9 .2-1.8 .1,2.6 .2,1.2 .2-1.3 .1-2.1 .2-.1 .1,2.2 .2-1.9 .2-1.6 .1,6.5 .2-4.1 .1,1.1 .2,.4 .2-1 .1-2 .2,.5 .1-1.4 .2,1.3 .2-3.8 .1,2.8 .2,1.9 .1-.7 .2,3 .2-3.8 .1,1.8 .2-3.7 .1,4.1 .2-1.8 .2-1 .1,3.4 .2-4.3 .1,2.5 .2-2.1 .2,3.5 .1-2.2 .2,2.2 .1-2.4 .2-.2 .2,.2 .1,2.6 .2-2.5 .1,2.1 .2-2.6 .2,3 .1-.4 .2,.2 .1-2.2 .2-.5 .2,1.7 .1-1.7 .2-.5 .1,2.3 .2-1.5 .2,2.7 .1,1.4 .2-5.4 .1,4.6 .2-.3 .2-3.4 .1-.1 .2,1.8 .1,.9 .2-2.1 .2,1.2 .1,2.1 .2-5 .1,3.2 .2-.8 .2,2.4 .1,1.4 .2-4.9 .1,.5 .2,.3 .2-1.9 .1,1.7 .2-2.9 .1,3.5 .2,1.3 .2-3.7 .1-1.4 .2,1.4 .1,1.8 .2,.1 .2,.4 .1,1.6 .2-2.9 .1,1.5 .2,.4 .2-3.6 .1,4.1 .2,.4 .1-4.3 .2,5.1 .2-3 .1,.4 .2,1.3 .1-2.9 .2,.9 .2,1.8 .1,3.1 .2-3 .1-.6 .2,.2 .2,1.2 .1-2.1 .2-1 .1,1.9 .2,1.9 .2-1 .1-2.7 .2,3 .1-3.2 .2-.1 .2,1.5 .1,0 .2,1.5 .1,.5 .2-3.4 .2,1.2 .1-3.5 .2,4.4 .1-2.1 .2,1.3 .2,.2 .1-.8 .2-.4 .1,1.5 .2-3.8 .2,4.9 .1,1 .2-3.6 .1,2.7 .2-1.6 .2-.7 .1,.6 .2,1.1 .1,.5 .2-5 .2,2.4 .1,1 .2,.4 .1-1.9 .2-2.1 .2,.6 .1,2.9 .2-2.6 .1,.8 .2,.3 .2-.5 .1,1.4 .2-.5 .1-2.8 .2,4.9 .2-1 .1-2 .2-1 .1,1.1 .2,.9 .2,.9 .1,2.2 .2-1.2 .1-.8 .2,.5 .2-2.8 .1,1 .2,.2 .1,3.5 .2-1.5 .2,.1 .1,0 .2-2.9 .1,.5 .2-.2 .2,3 .1-2.6 .2,.4 .1-1.1 .2,3.6 .2-3.3 .1,.3 .2-1 .1,1.4 .2,1.2 .2-.4 .1,.1 .2-3 .1,1.9 .2,2.2 .2-1.6 .1,.5 .2-.9 .1,1.9 .2-2.2 .2,1 .1,0 .2-2.2 .1,4.2 .2-2.2 .2,1.7 .1-.3 .2-3.6 .1,2.6 .2-2.8 .2,4.7 .1-2.8 .2,1 .1-3.3 .2,1.7 .2,1 .1,1.8 .2-2.2 .1-.7 .2,1.7 .2-2.1 .1-.2 .2,1.4 .1,.5 .2-2.8 .2,1 .1,2.1 .2-.6 .1-1.7 .2,1.5 .2,.4 .1,1.9 .2-4.8 .1,4.1 .2-6.4 .2,1.4 .1,4.9 .2-2.5 .1,0 .2,0 .2,2.1 .1-1.8 .2,1.8 .1-3.5 .2,5.6 .2-1.6 .1-1.1 .2-.4 .1-3.3 .2,6.1 .2-2.4 .1-1.7 .2,3.2 .1-4.9 .2,1 .2,4.1 .1-3.9 .2,2.3 .1,.3 .2-1.3 .2,.9 .1-.8 .2,1.2 .1,1.1 .2-2.6 .2,3.3 .1-6 .2,4.7 .1-3.9 .2,1.3 .2,2 .1-4 .2,4.5 .1-2.3 .2,2.6 .2-1.8 .1-.9 .2,.5 .1-.1 .2,.2 .2,2.6 .1-4.5 .2-2.1 .1,2.1 .2-1 .2,3.3 .1-1.5 .2,1.6 .1-.5 .2-.1 .2-1.6 .1,1.8 .2,1.4 .1-1.9 .2-3.3 .2,.3 .1,4 .2-2.3 .1,4.6 .2-.5 .2-3.4 .1,0 .2,2 .1,1 .2,.3 .2-1.9 .1-1.6 .2,3.4 .1,.6 .2-2 .2-2.7 .1,4.8 .2-2.7 .1-.4 .2,2.1 .2-.7 .1,1.7 .2-3.3 .1,0 .2-.4 .2-.5 .1,1.3 .2-1.5 .1-1.1 .2,1.8 .2,0 .1,1.2 .2-1.1 .1,.9 .2,.2 .2-2 .1,3.2 .2-1.8 .1-2.4 .2,3.3 .2-1.6 .1,.8 .2,4.4 .1-4.5 .2-1.5 .2,.6 .1,1.3 .2,2.2 .1-1.7 .2-3 .2,2.5 .1,1.1 .2-.4 .1-2.4 .2,1.2 .2-.1 .1-2.7 .2,1.3 .1,3.9 .2-4.6 .2,1.4 .1,2.1 .2-2.8 .2,1.9 .1-1.3 .2,0 .1,5.3 .2-6.2 .2-.2 .1,3.3 .2,2.5 .1-6 .2,1.2 .2,1.9 .1,.1 .2-.5 .1-.9 .2,.9 .2-3.3 .1,4.1 .2-1.6 .1,2.7 .2-.1 .2-2.4 .1,2.1 .2-5.4 .1,3.6 .2,1.6 .2-1.1 .1-2.1 .2,2.1 .1,1.4 .2-2.3 .2-.4 .1,.6 .2-.6 .1,1.1 .2,1.7 .2-1.1 .1-1.4 .2,1.5 .2,.2 .1-2.1 .2-1.6 .1,2.7 .2,5.2 .2-5.6 .1-.9 .2-1.4 .1,4.1 .2-3.2 .2,.8 .1,2.4 .2,1.1 .1-1.5 .2-1.8 .2,1 .1,1.6 .2-.5 .1,.6 .2-1.3 .2,.3 .1-1.9 .2,2.3 .1-1.7 .2,.1 .2,1.9 .1-1.3 .2-.3 .1,.8 .2-1.6 .2,1.9 .1-1.5 .2,1.6 .1-2.2 .2,3.5 .2-2.1 .1,1.7 .2,0 .1-.1 .2-.6 .2,2 .1-3.7 .2,1.3 .2-3 .1-.9 .2,1.9 .1,1.8 .2-1.6 .2,.4 .1,3.5 .2-2.1 .1,2.2 .2-1.2 .2-2.4 .1,.4 .2-.9 .1-.5 .2,1.2 .2,1.6 .1,1.3 .2-1.1 .1-.8 .2,0 .2,2.4 .1-3 .2,.6 .1,2.4 .2-2.6 .2-1.4 .1-.1 .2,4.7 .1-2.9 .2-4.4 .2,3 .1,3.2 .2-.2 .1-.3 .2,.6 .2-5 .1,4.3 .2-1.6 .2,0 .1,3.3 .2-1.3 .1-1.8 .2,1.5 .2,.5 .1-1.9 .2,1.6 .1,.1 .2-.3 .2,1.5 .1-4.1 .2,2.7 .1-2.8 .2,.3 .2,1.3 .1,0 .2,1.5 .1,1.1 .2-1.8 .2-1.6 .1,2.4 .2-.6 .1-.6 .2,2.4 .2-.2 .1-4.2 .2,2.9 .1-2.6 .2-.1 .2,4.2 .1-4.4 .2,1.4 .1-.9 .2,3 .2,1.4 .1-5.1 .2,1.9 .1,3.7 .2-.2 .2-1.9 .1-1.2 .2,3.8 .1-5 .2,3.2 .2-1 .1-3.6 .2,2.9 .1,.9 .2-1.3 .2,2.1 .1-3.9 .2,6.1 .1-1.9 .2-1.8 .2,1.1 .1-1.2 .2-2 .1,3.7 .2-1.3 .2,.7 .1,.8 .2,1.5 .1-4.2 .2,4.6 .2-3.7 .1,3.7 .2-3.6 .1-2.2 .2,2.5 .2-2.7 .1,3.5 .2,.9 .1-1 .2,.9 .2,1.5 .1-.5 .2-1.9 .1,2.3 .2-3.4 .2,.9 .1-.9 .2,.6 .1,.6 .2-.6 .2,.6 .1-1 .2,2.8 .1-1.9 .2-1.2 .2,1.5 .1-2.2 .2,.8 .1-1 .2,5.5 .2-3.2 .1,3.1 .2-3.7 .1,1.3 .2-3.6 .2,3.7 .1,1 .2-5.9 .1,4.8 .2,1.8 .2-4.3 .1-.6 .2,4 .1-2 .2-1.2 .2,2.5 .1,3 .2-1.5 .1-1.1 .2-2.2 .2-.6 .1,1.1 .2,1.9 .1-2.2 .2,4 .2,1 .1-5 .2-.3 .1,2.8 .2-.3 .2,.4 .1,1 .2-.8 .1-1.7 .2,1.4 .2-2.4 .1,2.6 .2,3.1 .1-1.9 .2-.6 .2,.1 .1-.8 .2-.8 .1,.8 .2,2.3 .2-1.4 .1-3.5 .2,2.8 .1-3.2 .2,2.9 .2-1.7 .1,3 .2-5.2 .1,3.4 .2,2.8 .2-1.2 .1-.4 .2,1.4 .1-2.4 .2,.4 .2,2.8 .1-4.4 .2-1.3 .1,2.8 .2-1.2 .2,1.3 .1,1.8 .2-.5 .1-1.3 .2-.6 .2-.8 .1,.6 .2,2.1 .1-.6 .2-1.7 .2,3.2 .1-4.2 .2,2.9 .1,1.1 .2-4.1 .2,2.7 .1-1.8 .2-.8 .1,4.9 .2-2 .2-.4 .1,1.9 .2,1.6 .1-1.9 .2-.9 .2-.6 .1,.4 .2-.2 .1,3.9 .2-3.8 .2-2.3 .1,2.4 .2-.2 .1-.2 .2-.6 .2-.8 .1,1 .2-1.5 .1,3.8 .2-4 .2,3.7 .1-1.6 .2,2.5 .1-2.9 .2,5.5 .2-2.5 .1-3.1 .2,2.1 .1-3.6 .2,3.9 .2-3.2 .1,1.9 .2,1.3 .1-2.3 .2,0 .2,3.4 .1-1.6 .2-1.8 .1,1.6 .2-1 .2,1.7 .1-3.2 .2-.2 .1,1.2 .2,0 .2,.9 .1-.1 .2,1 .1-3 .2,4.9 .2-2.2 .1,4.6 .2-6 .1-.2 .2,.5 .2-.8 .1,3 .2-1.4 .1,2.4 .2-3 .2-1.2 .1-.3 .2,6.3 .1-3.6 .2,1.2 .2-.5 .1-.3 .2,.6 .1,1.2 .2,.5 .2-2.9 .1-1.5 .2,3.3 .1-2.2 .2,.6 .2-.1 .1-.2 .2,2.4 .1-.7 .2,1.6 .2-5.7 .1,5.4 .2-1.2 .1,.6 .2-2 .2-1.4 .1,1 .2,1.8 .1-.8 .2,.9 .2-2.8 .1-.5 .2,6 .1-2.8 .2-1.2 .2,.8 .1-.4 .2,.6 .1,.8 .2-3.3 .2,2.5 .1,.2 .2,.5 .1,.7 .2-5.4 .2,2.3 .1,1.8 .2-.9 .1-1.6 .2,1.7 .2,0 .1,.9 .2-.9 .1,1.5 .2,2.2 .2-4.4 .1,.1 .2,1.9 .1,1.3 .2-3.3 .1,2.8 .2-2.8 .2,.2 .1,2.4 .2-.2 .1-1.3 .2,1.3 .2-.5 .1-1.3 .2-2 .1,.6 .2,1.1 .1,2.5 .2-2.8 .2,.7 .1-2.1 .2,3.7 .1-2.2 .2-.8 .1,.2 .2,.9 .2-2 .1,2.4 .2,2.2 .1-2.9 .2-1.1 .2,2.5 .1-.4 .2-.5 .1-.5 .2,.7 .1,2.7 .2-1.9 .2-.4 .1,.4 .2,1.1 .1-3.6 .2,1.4 .2,2.1 .1-5.5 .2,1.4 .1-1.7 .2,.7 .2-.4 .1-2.3 .2,1.2 .1,1.5 .2-1.6 .2,1.9 .1-.4 .2-1.8 .1,0 .2-.4 .2,1.7 .1-.5 .2-2.3 .1,1.6 .2-.4 .2,1.9 .1,.4 .2-2.1 .1-.9 .2-2.9 .2,.8 .1,2.2 .2-.1 .1-3.3 .2,.9 .1-2 .2,1 .2-2.5 .1,3.1 .2,1 .1-.9 .2-3 .1,4.9 .2-4.5 .2,4.4 .1-3.1 .2,1.5 .1-1.4 .2,.4 .1-1.4 .2-6.9 .1-2.2 .2-2.8 .1-3.7 .2,1.5 .2-5.7 .1-3.7 .2-.4 .1,1 .2-2.1 .1-1.5 .2-1.4 .2,1.8 .1-2.1 .2-.8 .1-3.4 .2-.6 .2,.7 .1-2.3 .2-1 .2,1.8 .1-3.1 .2-3 .1-1.4 .2-.2 .2,.5 .1-3.1 .2-3.3 .1,0 .2-.7 .2-9.6 .1-10.8 .2-11.1 .2-9.4 .2-4.4 .1-3.9 .2-2.4 .1-3.9 .2-1.3 .1-7.7 .2-.5 .1-5.2 .2-4.1 .1-.7 .2-6.3 .2-4.6 .1-7.7 .2-6.2 .2-7.6 .2-6.3 .1-8.4 .2-6.8 .2,2.5 .1,1.2 .2,2.9 .1-2.6 .2-1.4 .2,3.1 .1-.8 .2,2.5 .1-.7 .2,1 .2,.2 .1-2 .2,1.2 .2,4.3 .1,.7 .2-1.4 .1,.2 .2,1.4 .2-1.4 .1,3.1 .2-.7 .1-1.4 .2,1.8 .2,2.1 .1-2.4 .2-1.6 .1,2.7 .2,0 .2,1 .1-2.1 .2,1.1 .1,2 .2-.9 .2,.1 .1-1.5 .2,2.3 .1,.5 .2-.2 .2-1.2 .1,1 .2,1 .1-1.2 .2,2.7 .2-3.2 .1,1.6 .2,.8 .1-1 .2-.2 .2,.5 .1,1.9 .2-2.1 .2,1.6 .1,2.6 .2-4.7 .1,1 .2,1.3 .2,1.2 .1-2.6 .2,5.1 .1-1.2 .2-1.3 .2,1.7 .1-2.6 .2,2.7 .1-1.4 .2,1.8 .2-.3 .1-.3 .2-1.6 .1,.4 .2,2.3 .2-.5 .1,1.3 .2-2 .1,3.7 .2-.8 .2,1.5 .1-5.9 .2,1.3 .1-2.3 .2,4.3 .2-1.4 .1,.5 .2-2.7 .1,1.9 .2,2.2 .2-3.3 .1,1 .2,1.9 .2-2.9 .1,2.9 .2,.6 .1-4.1 .2,1.1 .2-2.3 .1,2.8 .2,.6 .1-.8 .2-3.2 .2-16.1 .1-17.7 .2-15 .2-14 .2-21.5 .1-18.8 .2-18.4 .2,.4 .1-.5 .2,4.8 .1,1.8 .2-1.2 .2,1.8 .1,2.8 .2,2.5 .1-.9 .2,.8 .2,1.5 .1,2.4 .2,.4 .1,1.3 .2-.1 .2-1.7 .1-5 .2-5 .2-3.5 .1-3.4 .2-6.8 .2-5.7 .1-3 .2-5.8 .2-2.6 .1-7.1 .2-4.5 .2,4.3 .1,4.2 .2,1.2 .1,.2 .2,3.4 .2,2.8 .1,2.8 .2,1.7 .1,2.6 .2,1 .2-.5 .1,6.4 .2,2.5 .2,3.8 .1,.8 .2,.7 .1,3.3 .2,1.7 .2,3.3 .1,1.6 .2,1 .2,1.3 .1-.3 .2,2.7 .1,2.6 .2-.1 .2,4.1 .1,1.5 .2,2.2 .2,.4 .1,2.8 .2,0 .2,.1 .1,4 .2,1.6 .1-.1 .2,3 .2,1.7 .1,.7 .2,5.2 .2-.6 .1,.7 .2,2.4 .1-1.2 .2,2.6 .2,2.7 .1,3.8 .2-1 .1,2.9 .2,.4 .2,.9 .1,3.2 .2,.3 .2,.6 .1,2.7 .2,3 .1-.4 .2,2.6 .2-.5 .1,2.1 .2,.9 .1,1.7 .2,3.1 .2-1 .1,.1 .2,1.6 .1,.6 .2-3.3 .2-.1 .1,2.5 .2,.4 .1-.5 .2,.2 .2,.7 .1-1.8 .2,1.6 .1-1.7 .2-.2 .2-.8 .1,.3 .2,2.4 .1-.4 .2-.6 .2,1.8 .1-.9 .2-.7 .1,1.8 .2-.4 .2-.8 .1,1.1 .2-.9 .1,.5 .2-.1 .2-1 .1,.5 .2,2.2 .1-1.6 .2,1 .2-.8 .1,.9 .2-1.4 .1,2.9 .2-2.3 .2,1.7 .1-.9 .2,.4 .1-1 .2,1.3 .2-1.1 .1,1.6 .2,.8 .1-2.7 .2,.6 .2,1 .1-.8 .2,1.8 .1,.5 .2-1 .2,.3 .1-.8 .2,.2 .1,1.4 .2-1.2 .2,1 .1-1.8 .2,1.8 .1,.3 .2-1.5 .1,.6 .2,1.4 .2-.8 .1-.1 .2,.6 .1,.2 .2-1.1 .2,2.3 .1-1.6 .2,.1 .1-.1 .2,.1 .2,.1 .1,1.4 .2-1.6 .1,.6 .2,.3 .2-1.4 .1,.6 .2,1 .1,.4 .2-2 .2,1 .1,1 .2,.3 .1,.9 .2-2.9 .2,2.4 .1-.6 .2-2.5 .1,4.1 .2-1.1 .2,.9 .1-1.5 .2,.3 .1,1.8 .2-1.2 .2,1.3 .1-2.6 .2,3.5 .1,.3 .2-1.4 .2-1.5 .1-.7 .2,.7 .1,1.5 .2-.3 .2-1 .1-.5 .2,3 .1-1.8 .2,2.9 .2-2.2 .1,.8 .2-.6 .1,.2 .2-1.1 .2-.7 .1,4.2 .2-3.1 .1,2.4 .2-.2 .2,2.4 .1-2.7 .2,1.3 .1,.2 .2,.5 .1-1.6 .2,1.8 .2,1.2 .1-.3 .2-3.3 .1,1.4 .2,3.3 .2-2.1 .1,.1 .2,2.8 .1-2.7 .2,.8 .1-.1 .2,1.3 .2-.6 .1,1.9 .2-.6 .1-1.5 .2,.6 .2,3.1 .1-1.6 .2-.3 .1,1 .2-.5 .2,1.7 .1,.5 .2-1.6 .1,2.6 .2-2.3 .1,1.5 .2-.2 .2-1.3 .1,2.4 .2,.4 .1-4.3 .2,3.9 .2,2.6 .1-.2 .2-2.4 .1-.6 .2,.2 .2,.1 .1,1.1 .2-.6 .1,1.1 .2,.8 .2-.8 .1-.5 .2-.3 .1-.1 .2-.1 .2,.1 .1,2.7 .2-4.5 .1,2.7 .2,.2 .2-.8 .1,1.2 .2-.1 .1,2.4 .2-1.5 .2-.1 .1,.6 .2,1.6 .2-1.9 .1,.6 .2-.8 .1,.1 .2-1.9 .2,2.3 .1,1.2 .2-.8 .1,2.1 .2-2.4 .2-.6 .1,.9 .2-1.2 .1,.1 .2,.5 .2,1.1 .1-.1 .2,3.7 .1-3.7 .2,.9 .2-.6 .1,1 .2-1 .1,0 .2,2.3 .2-1.5 .1,1.6 .2-1.6 .1-.8 .2,1 .2-1.4 .1,3 .2-1.1 .1,.6 .2-1.2 .2,1.6 .1-1.2 .2,.7 .1-.3 .2,1 .2-1.1 .1,.9 .2,.2 .1-.9 .2,2 .2-.5 .1-2.8 .2,3.6 .1-1.3 .2,.5 .2-.9 .1,1.1 .2-.9 .2,1.6 .1,0 .2,0 .1,1.8 .2-4 .2,2 .1-.7 .2-.2 .1,1.4 .2-.3 .2,1.7 .1-1.3 .2,1.3 .1-.6 .2-.6 .2,1.7 .1-1.8 .2,2.9 .1-2 .2,1.2 .2-2.4 .1,3.6 .2-1.3 .1-.6 .2,1.4 .2-1.6 .1-.9 .2,3.6 .1,0 .2-2.8 .2,2 .1,1.3 .2-3 .1,2.3 .2,.9 .1-.5 .2-1.1 .2,.6 .1,.6 .2,.5 .1,.2 .2,1.2 .2-1.5 .1-.9 .2,1.5 .1,.5 .2,.5 .1-.9 .2,1.3 .2,1.6 .1-2.4 .2,2.4 .1-.6 .2,.2 .2-.4 .1,2.9 .2-2.8 .1,1.9 .2,.2 .2,.9 .1-2.6 .2,0 .1,3 .2,0 .1-.8 .2,.7 .2-1.5 .1-1.4 .2,3.7 .1-.3 .2,2 .2-1.5 .1-1.1 .2-.9 .1,2.5 .2,1.4 .2-.8 .1,1.1 .2-1.4 .1-.2 .2-1.9 .2,.9 .1,0 .2,0 .1,2.4 .2-4 .2,2 .1,4 .2-1.1 .1-1.3 .2-2.2 .2,.9 .1,2.2 .2-1 .2-.9 .1,.4 .2,.9 .1,.2 .2,1.4 .2-1.4 .1,.9 .2-2.5 .1,2.4 .2,.1 .2-.1 .1-1.8 .2,.9 .1,3.1 .2-.3 .2-1.3 .1,1.9 .2-3.3 .1,4.6 .2-3.3 .2-.5 .1,2.3 .2-1.4 .1,.9 .2-1.8 .2-.2 .1,1.4 .2,.2 .1,.5 .2-2.3 .2,3.1 .1,.6 .2-.9 .1,.2 .2,1.8 .2-1 .1,2.5 .2-2.3 .2-1.8 .1,2.2 .2-.5 .1,.9 .2-.4 .2-.9 .1,.5 .2-1.3 .1,.1 .2,2.3 .2-1.3 .1-.2 .2,1.5 .1-.7 .2,1.4 .2-2.2 .1,1.3 .2,1.3 .1-1 .2,1.5 .2-1 .1-.3 .2-3.3 .1,3.9 .2-1.2 .2,1.3 .1-1 .2,1.2 .1-.1 .2-1.2 .2-2.4 .1,4.9 .2-1.8 .1-.2 .2-1.2 .2,2.2 .1-.6 .2-.7 .2-1 .1,3.9 .2-1.8 .1-.3 .2,.9 .2-1.1 .1,0 .2,.8 .1-.9 .2,1.2 .2-.3 .1,.9 .2-.1 .1-.3 .2,0 .2,.5 .1-.5 .2-.6 .1,.3 .2,.6 .2-1.2 .1,.4 .2-1.2 .1,1.9 .2-1.2 .2-1 .1-1.1 .2,2.7 .1,1.3 .2-.4 .2-.4 .1,.7 .2,.3 .2,1.1 .1-1 .2-1.6 .1,2.1 .2,2.3 .2-3.7 .1-.3 .2,.2 .1,1.3 .2-1.1 .2,2.1 .1,.6 .2-3.4 .1,2 .2-.1 .2,1.1 .1-1.5 .2,1.2 .1-1 .2-.2 .2-.7 .1,1.7 .2,0 .1-.5 .2,0 .2,1 .1-1.4 .2,2.8 .1-2.4 .2,.6 .2-.9 .1-.1 .2,.4 .1-.3 .2,1.9 .1-.8 .2-2.9 .2,2.4 .1,1.4 .2-2.9 .1,1.2 .2,2.3 .2-3.6 .1,.6 .2,.9 .1,.1 .2-2.1 .2,1.8 .1,1.7 .2-2.3 .1,.5 .2,2.3 .2-2 .1-1.1 .2,2 .1-.4 .2,1.1 .1-1.3 .2-1.5 .2,1.9 .1-.9 .2,.5 .1,2.3 .2-2.9 .2,.4 .1,.2 .2,.6 .1,.8 .2-1.2 .2-2.3 .1,3 .2-2.5 .1,.7 .2,.9 .2,.4 .1-1.3 .2,3.6 .1-5.7 .2,4.1 .2-2.3 .1,.3 .2,.4 .1-.1 .2,2.3 .1-1.1 .2-.2 .2-.8 .1-.7 .2,2.9 .1-.8 .2,.2 .2,.5 .1-2.2 .2,.7 .1,.6 .2-.5 .2-.3 .1-3.5 .2,1.6 .1-1.3 .2,1.6 .1,.8 .2-1.8 .2,.5 .1,.1 .2-.7 .1,.1 .2-3 .2,.1 .1-.8 .2,1 .1,1.1 .2-2.6 .1-2.1 .2,.6 .2,.4 .1-4.1 .2-2.1 .1-3.3 .2-1.5 .1-3.4 .2-1.8 .2-3.2 .1-3.5 .2-.1 .1-3.5 .2-1.8 .2-.5 .1,1.6 .2-1.3 .1,1.1 .2,.6 .1-2.4 .2,1.8 .2-1 .1,1.7 .2-2.9 .1,1.8 .2-2.4 .1,1.4 .2,1.2 .1,.6 .2-.5 .2,.5 .1-.8 .2,.5 .1-1.7 .2-.3 .2,2.4 .1,1.2 .2-2.7 .1,.5 .2,.1 .2-.1 .1-.1 .2,.5 .1,.4 .2,1.1 .2-1.7 .1,2.2 .2,.4 .1-4.5 .2,2.8 .2-1.3 .1,2.2 .2-.5 .1,.1 .2-1.3 .2,1.9 .1,.6 .2-1.7 .1-1.8 .2,.4 .2,1 .1,1.7 .2,0 .1-.7 .2-2.1 .2,1.4 .1-.8 .2-.7 .1,3.9 .2-.4 .2,1 .1-.9 .2-.2 .1,.1 .2-3.3 .2,2.6 .1-2.1 .2,2.1 .1-.7 .2,.6 .2,1 .1-2.9 .2,.2 .1,2.7 .2-.2 .2,.7 .1-1.6 .2,2.4 .1-1.7 .2,2.4 .2-5 .1,1.6 .2-1.3 .1,1.9 .2,2.7 .2-2.9 .1,1.4 .2,.2 .1-.3 .2-1.2 .2,1.7 .1-1.9 .2,1.2 .1,1.1 .2-.5 .2,2 .1,.2 .2-.9 .1,0 .2-2.5 .2,.5 .1-.5 .2-1.4 .1,1.8 .2,2 .2-.3 .1-.9 .2,2.9 .1-1 .2-1.3 .1-1.8 .2-.2 .2-1 .1,3.1 .2-1.8 .1,1.8 .2-2.3 .2,1.1 .1,1 .2-1.5 .1-1.4 .2,2.2 .2,1.3 .1-1 .2-.5 .1,.8 .2-3.6 .2,2.9 .1,.6 .2,.3 .1,2.3 .2-3 .2,1.9 .1-2.2 .2,1 .1,0 .2-1.1 .2,2.6 .1-.4 .2-.1 .1-.4 .2-2 .2-.2 .1-.4 .2,2.4 .1,.5 .2,.6 .2-1.9 .1,2 .2-.7 .1-1.7 .2,1 .2,1 .1,0 .2-.4 .1-2.2 .2,.5 .2-.5 .1,1.7 .2,.6 .1-1.5 .2,3.8 .2-1.7 .1-2.7 .2,2.8 .1-.8 .2,1.1 .2-.2 .1-.9 .2,3 .1-3.3 .2-1.2 .2-.6 .1,1.4 .2-.3 .1,.8 .2-.8 .2,.6 .1-1.6 .2,2.4 .1-.8 .2,2.5 .2-3.6 .1,.3 .2,4.1 .1-1.6 .2-.8 .2-1.6 .1,3.4 .2-2.2 .1-.5 .2,.3 .2-2.5 .1,1.7 .2,.9 .1-.9 .2,2.2 .2-.2 .1,.1 .2-.4 .1,1.6 .2-3.2 .2,1.5 .1,1.8 .2-1.7 .1-2.4 .2,5.1 .2-1.6 .1,.8 .2-.2 .1-1.3 .2,.8 .2-2 .1,1.7 .2-4.2 .1,4.6 .2-1.4 .2-.1 .1-1 .2,1.8 .1,1.3 .2-1.3 .2-1.1 .1,0 .2,1.5 .1-1.2 .2,2.3 .2-1 .1-.1 .2-2.1 .1,3 .2,.3 .2-.6 .1-1.7 .2,1.4 .1-.1 .2-1.1 .2,2.3 .1-2 .2,2.3 .1-2.7 .2,3.2 .2,.3 .1-4.4 .2,.8 .2,1.5 .1-1.2 .2,2.6 .1-1.9 .2,1 .2,.7 .1-.2 .2-2.5 .1,2.1 .2-.7 .2,.3 .1,1.2 .2-1.9 .1,1.2 .2-1.8 .2,2 .1-1.7 .2,2 .1-.3 .2,.6 .2-5 .1,3.7 .2-.6 .1-1.4 .2,.2 .2,.2 .1,.9 .2,.1 .1,1.3 .2,.9 .2-.7 .1-1.7 .2-.6 .1-.1 .2,1.1 .2,2.8 .1-2.4 .2,.1 .1,.2 .2,.5 .2-3.3 .1,1.8 .2,3.1 .1-3.4 .2,1.7 .2-.1 .1-.5 .2-2.3 .1,.9 .2,2.7 .2-.4 .1-1.9 .2-1.2 .1,3.1 .2-4.1 .2,1.5 .1,3.8 .2-4.2 .1,3.1 .2-2.2 .2,2.8 .1-3.4 .2,4.9 .1-3.2 .2,1.8 .2-.6 .1-2.2 .2,1.1 .1,1.4 .2-2.2 .2,.4 .1,1 .2,.5 .1-1.7 .2-.1 .2,2.8 .1-.8 .2-2.7 .1,2.1 .2-2.8 .2,1.7 .1-2.8 .2,3.2 .1,1.7 .2-2.2 .2,0 .1-1.2 .2,2 .2-.2 .1-.7 .2-1.2 .1-.2 .2,1.9 .2,1.8 .1-.7 .2-1.8 .1,1.9 .2-1.4 .2-1.4 .1,2.5 .2-2.2 .1,5.1 .2-6.2 .2,.5 .1,2.5 .2-.9 .1,1.9 .2-.7 .2-2 .1,2.9 .2-1.9 .1-.1 .2,2 .2-1.9 .1,.9 .2-2.5 .1,1.1 .2,2.5 .2-5.3 .1,1.2 .2,2.8 .1,1.6 .2-2.7 .2-1.1 .1,3.1 .2,.3 .1,.6 .2-1.8" stroke="#00a0ff" stroke-width="5.8" fill="none" stroke-linejoin="round" stroke-linecap="butt"/>
<path d="M777.2,1077.9V1255.5" stroke="#0000ff" stroke-width="4.6" stroke-dasharray="20.0 18.3" fill="none"/>
<path d="M950.3,1025.3V1255.5" stroke="#0000ff" stroke-width="4.6" stroke-dasharray="20.0 18.3" fill="none"/>
<path fill-rule="evenodd" fill="#000" d="M512.3,700H1208V1260.2H512.3ZM515.2,703V1257.2H1205V703Z"/>
<text transform="translate(642.8 1056.5) scale(1.012 1)" font-size="31.8" text-anchor="middle">I</text>
<text transform="translate(869.9 1056.5) scale(1.012 1)" font-size="31.8" text-anchor="middle">II</text>
<text transform="translate(1071.4 1056.5) scale(1.012 1)" font-size="31.8" text-anchor="middle">III</text>
<text transform="translate(568.3 1163.3) scale(0.953 1)" font-size="30.3">Unmined stage</text>
<text transform="translate(921.6 1024.6)" font-size="31.81" text-anchor="middle">A</text>
<text transform="translate(1015.2 773.5)" font-size="31.81" text-anchor="middle">B</text>
<text transform="translate(1047.6 953.2)" font-size="31.81" text-anchor="middle">C</text>
<text transform="translate(793.5 1145.6) scale(0.953 1)" font-size="30.3">No.22 coal</text>
<text transform="translate(793.5 1181.6) scale(0.953 1)" font-size="30.3">seam mining</text>
<text transform="translate(793.5 1217.1) scale(0.953 1)" font-size="30.3">stage</text>
<text transform="translate(1008 1145.6) scale(0.953 1)" font-size="30.3">No.42 coal</text>
<text transform="translate(1008 1181.6) scale(0.953 1)" font-size="30.3">seam mining</text>
<text transform="translate(1008 1217.1) scale(0.953 1)" font-size="30.3">stage</text>
<circle cx="977.5" cy="754.9" r="11.4" fill="none" stroke="#ff0000" stroke-width="2.9"/>
<circle cx="1070.1" cy="920.7" r="11.4" fill="none" stroke="#ff0000" stroke-width="2.9"/>
<circle cx="951.8" cy="1029.2" r="11.4" fill="none" stroke="#ff0000" stroke-width="2.9"/>
</g>
<path d="M950.3,1255V1261.7" stroke="#0000ff" stroke-width="4.6" fill="none"/>
</svg>
</body>
</html>
